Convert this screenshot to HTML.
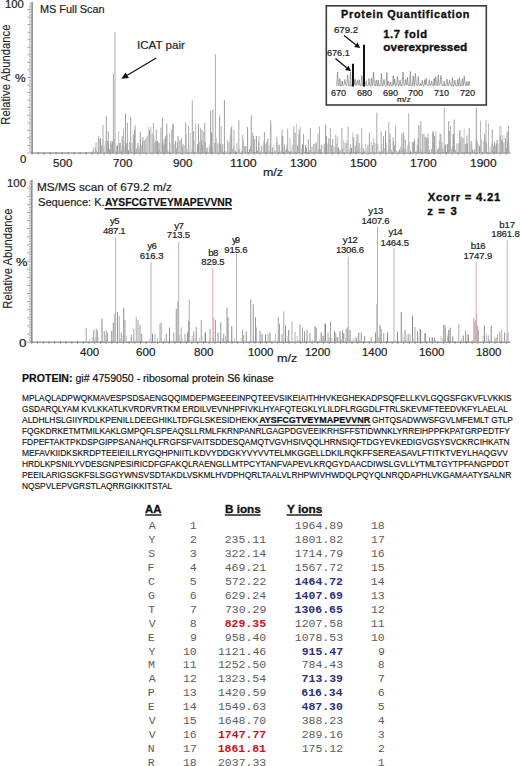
<!DOCTYPE html>
<html><head><meta charset="utf-8"><style>
html,body{margin:0;padding:0;background:#fff;}
body{width:520px;height:766px;position:relative;overflow:hidden;font-family:'Liberation Sans', sans-serif;}
.t{position:absolute;white-space:nowrap;}
svg{position:absolute;left:0;top:0;}
</style></head><body>
<svg width="520" height="766" viewBox="0 0 520 766" >
<line x1="32.10" y1="2.00" x2="32.10" y2="153.50" stroke="#8c8c8c" stroke-width="1.6"/>
<line x1="27.30" y1="153.00" x2="31.30" y2="153.00" stroke="#9c9c9c" stroke-width="0.9"/>
<line x1="29.20" y1="151.49" x2="31.30" y2="151.49" stroke="#b0b0b0" stroke-width="0.9"/>
<line x1="29.20" y1="149.98" x2="31.30" y2="149.98" stroke="#b0b0b0" stroke-width="0.9"/>
<line x1="29.20" y1="148.47" x2="31.30" y2="148.47" stroke="#b0b0b0" stroke-width="0.9"/>
<line x1="29.20" y1="146.96" x2="31.30" y2="146.96" stroke="#b0b0b0" stroke-width="0.9"/>
<line x1="27.30" y1="145.45" x2="31.30" y2="145.45" stroke="#9c9c9c" stroke-width="0.9"/>
<line x1="29.20" y1="143.94" x2="31.30" y2="143.94" stroke="#b0b0b0" stroke-width="0.9"/>
<line x1="29.20" y1="142.43" x2="31.30" y2="142.43" stroke="#b0b0b0" stroke-width="0.9"/>
<line x1="29.20" y1="140.92" x2="31.30" y2="140.92" stroke="#b0b0b0" stroke-width="0.9"/>
<line x1="29.20" y1="139.41" x2="31.30" y2="139.41" stroke="#b0b0b0" stroke-width="0.9"/>
<line x1="27.30" y1="137.90" x2="31.30" y2="137.90" stroke="#9c9c9c" stroke-width="0.9"/>
<line x1="29.20" y1="136.39" x2="31.30" y2="136.39" stroke="#b0b0b0" stroke-width="0.9"/>
<line x1="29.20" y1="134.88" x2="31.30" y2="134.88" stroke="#b0b0b0" stroke-width="0.9"/>
<line x1="29.20" y1="133.37" x2="31.30" y2="133.37" stroke="#b0b0b0" stroke-width="0.9"/>
<line x1="29.20" y1="131.86" x2="31.30" y2="131.86" stroke="#b0b0b0" stroke-width="0.9"/>
<line x1="27.30" y1="130.35" x2="31.30" y2="130.35" stroke="#9c9c9c" stroke-width="0.9"/>
<line x1="29.20" y1="128.84" x2="31.30" y2="128.84" stroke="#b0b0b0" stroke-width="0.9"/>
<line x1="29.20" y1="127.33" x2="31.30" y2="127.33" stroke="#b0b0b0" stroke-width="0.9"/>
<line x1="29.20" y1="125.82" x2="31.30" y2="125.82" stroke="#b0b0b0" stroke-width="0.9"/>
<line x1="29.20" y1="124.31" x2="31.30" y2="124.31" stroke="#b0b0b0" stroke-width="0.9"/>
<line x1="27.30" y1="122.80" x2="31.30" y2="122.80" stroke="#9c9c9c" stroke-width="0.9"/>
<line x1="29.20" y1="121.29" x2="31.30" y2="121.29" stroke="#b0b0b0" stroke-width="0.9"/>
<line x1="29.20" y1="119.78" x2="31.30" y2="119.78" stroke="#b0b0b0" stroke-width="0.9"/>
<line x1="29.20" y1="118.27" x2="31.30" y2="118.27" stroke="#b0b0b0" stroke-width="0.9"/>
<line x1="29.20" y1="116.76" x2="31.30" y2="116.76" stroke="#b0b0b0" stroke-width="0.9"/>
<line x1="27.30" y1="115.25" x2="31.30" y2="115.25" stroke="#9c9c9c" stroke-width="0.9"/>
<line x1="29.20" y1="113.74" x2="31.30" y2="113.74" stroke="#b0b0b0" stroke-width="0.9"/>
<line x1="29.20" y1="112.23" x2="31.30" y2="112.23" stroke="#b0b0b0" stroke-width="0.9"/>
<line x1="29.20" y1="110.72" x2="31.30" y2="110.72" stroke="#b0b0b0" stroke-width="0.9"/>
<line x1="29.20" y1="109.21" x2="31.30" y2="109.21" stroke="#b0b0b0" stroke-width="0.9"/>
<line x1="27.30" y1="107.70" x2="31.30" y2="107.70" stroke="#9c9c9c" stroke-width="0.9"/>
<line x1="29.20" y1="106.19" x2="31.30" y2="106.19" stroke="#b0b0b0" stroke-width="0.9"/>
<line x1="29.20" y1="104.68" x2="31.30" y2="104.68" stroke="#b0b0b0" stroke-width="0.9"/>
<line x1="29.20" y1="103.17" x2="31.30" y2="103.17" stroke="#b0b0b0" stroke-width="0.9"/>
<line x1="29.20" y1="101.66" x2="31.30" y2="101.66" stroke="#b0b0b0" stroke-width="0.9"/>
<line x1="27.30" y1="100.15" x2="31.30" y2="100.15" stroke="#9c9c9c" stroke-width="0.9"/>
<line x1="29.20" y1="98.64" x2="31.30" y2="98.64" stroke="#b0b0b0" stroke-width="0.9"/>
<line x1="29.20" y1="97.13" x2="31.30" y2="97.13" stroke="#b0b0b0" stroke-width="0.9"/>
<line x1="29.20" y1="95.62" x2="31.30" y2="95.62" stroke="#b0b0b0" stroke-width="0.9"/>
<line x1="29.20" y1="94.11" x2="31.30" y2="94.11" stroke="#b0b0b0" stroke-width="0.9"/>
<line x1="27.30" y1="92.60" x2="31.30" y2="92.60" stroke="#9c9c9c" stroke-width="0.9"/>
<line x1="29.20" y1="91.09" x2="31.30" y2="91.09" stroke="#b0b0b0" stroke-width="0.9"/>
<line x1="29.20" y1="89.58" x2="31.30" y2="89.58" stroke="#b0b0b0" stroke-width="0.9"/>
<line x1="29.20" y1="88.07" x2="31.30" y2="88.07" stroke="#b0b0b0" stroke-width="0.9"/>
<line x1="29.20" y1="86.56" x2="31.30" y2="86.56" stroke="#b0b0b0" stroke-width="0.9"/>
<line x1="27.30" y1="85.05" x2="31.30" y2="85.05" stroke="#9c9c9c" stroke-width="0.9"/>
<line x1="29.20" y1="83.54" x2="31.30" y2="83.54" stroke="#b0b0b0" stroke-width="0.9"/>
<line x1="29.20" y1="82.03" x2="31.30" y2="82.03" stroke="#b0b0b0" stroke-width="0.9"/>
<line x1="29.20" y1="80.52" x2="31.30" y2="80.52" stroke="#b0b0b0" stroke-width="0.9"/>
<line x1="29.20" y1="79.01" x2="31.30" y2="79.01" stroke="#b0b0b0" stroke-width="0.9"/>
<line x1="27.30" y1="77.50" x2="31.30" y2="77.50" stroke="#9c9c9c" stroke-width="0.9"/>
<line x1="29.20" y1="75.99" x2="31.30" y2="75.99" stroke="#b0b0b0" stroke-width="0.9"/>
<line x1="29.20" y1="74.48" x2="31.30" y2="74.48" stroke="#b0b0b0" stroke-width="0.9"/>
<line x1="29.20" y1="72.97" x2="31.30" y2="72.97" stroke="#b0b0b0" stroke-width="0.9"/>
<line x1="29.20" y1="71.46" x2="31.30" y2="71.46" stroke="#b0b0b0" stroke-width="0.9"/>
<line x1="27.30" y1="69.95" x2="31.30" y2="69.95" stroke="#9c9c9c" stroke-width="0.9"/>
<line x1="29.20" y1="68.44" x2="31.30" y2="68.44" stroke="#b0b0b0" stroke-width="0.9"/>
<line x1="29.20" y1="66.93" x2="31.30" y2="66.93" stroke="#b0b0b0" stroke-width="0.9"/>
<line x1="29.20" y1="65.42" x2="31.30" y2="65.42" stroke="#b0b0b0" stroke-width="0.9"/>
<line x1="29.20" y1="63.91" x2="31.30" y2="63.91" stroke="#b0b0b0" stroke-width="0.9"/>
<line x1="27.30" y1="62.40" x2="31.30" y2="62.40" stroke="#9c9c9c" stroke-width="0.9"/>
<line x1="29.20" y1="60.89" x2="31.30" y2="60.89" stroke="#b0b0b0" stroke-width="0.9"/>
<line x1="29.20" y1="59.38" x2="31.30" y2="59.38" stroke="#b0b0b0" stroke-width="0.9"/>
<line x1="29.20" y1="57.87" x2="31.30" y2="57.87" stroke="#b0b0b0" stroke-width="0.9"/>
<line x1="29.20" y1="56.36" x2="31.30" y2="56.36" stroke="#b0b0b0" stroke-width="0.9"/>
<line x1="27.30" y1="54.85" x2="31.30" y2="54.85" stroke="#9c9c9c" stroke-width="0.9"/>
<line x1="29.20" y1="53.34" x2="31.30" y2="53.34" stroke="#b0b0b0" stroke-width="0.9"/>
<line x1="29.20" y1="51.83" x2="31.30" y2="51.83" stroke="#b0b0b0" stroke-width="0.9"/>
<line x1="29.20" y1="50.32" x2="31.30" y2="50.32" stroke="#b0b0b0" stroke-width="0.9"/>
<line x1="29.20" y1="48.81" x2="31.30" y2="48.81" stroke="#b0b0b0" stroke-width="0.9"/>
<line x1="27.30" y1="47.30" x2="31.30" y2="47.30" stroke="#9c9c9c" stroke-width="0.9"/>
<line x1="29.20" y1="45.79" x2="31.30" y2="45.79" stroke="#b0b0b0" stroke-width="0.9"/>
<line x1="29.20" y1="44.28" x2="31.30" y2="44.28" stroke="#b0b0b0" stroke-width="0.9"/>
<line x1="29.20" y1="42.77" x2="31.30" y2="42.77" stroke="#b0b0b0" stroke-width="0.9"/>
<line x1="29.20" y1="41.26" x2="31.30" y2="41.26" stroke="#b0b0b0" stroke-width="0.9"/>
<line x1="27.30" y1="39.75" x2="31.30" y2="39.75" stroke="#9c9c9c" stroke-width="0.9"/>
<line x1="29.20" y1="38.24" x2="31.30" y2="38.24" stroke="#b0b0b0" stroke-width="0.9"/>
<line x1="29.20" y1="36.73" x2="31.30" y2="36.73" stroke="#b0b0b0" stroke-width="0.9"/>
<line x1="29.20" y1="35.22" x2="31.30" y2="35.22" stroke="#b0b0b0" stroke-width="0.9"/>
<line x1="29.20" y1="33.71" x2="31.30" y2="33.71" stroke="#b0b0b0" stroke-width="0.9"/>
<line x1="27.30" y1="32.20" x2="31.30" y2="32.20" stroke="#9c9c9c" stroke-width="0.9"/>
<line x1="29.20" y1="30.69" x2="31.30" y2="30.69" stroke="#b0b0b0" stroke-width="0.9"/>
<line x1="29.20" y1="29.18" x2="31.30" y2="29.18" stroke="#b0b0b0" stroke-width="0.9"/>
<line x1="29.20" y1="27.67" x2="31.30" y2="27.67" stroke="#b0b0b0" stroke-width="0.9"/>
<line x1="29.20" y1="26.16" x2="31.30" y2="26.16" stroke="#b0b0b0" stroke-width="0.9"/>
<line x1="27.30" y1="24.65" x2="31.30" y2="24.65" stroke="#9c9c9c" stroke-width="0.9"/>
<line x1="29.20" y1="23.14" x2="31.30" y2="23.14" stroke="#b0b0b0" stroke-width="0.9"/>
<line x1="29.20" y1="21.63" x2="31.30" y2="21.63" stroke="#b0b0b0" stroke-width="0.9"/>
<line x1="29.20" y1="20.12" x2="31.30" y2="20.12" stroke="#b0b0b0" stroke-width="0.9"/>
<line x1="29.20" y1="18.61" x2="31.30" y2="18.61" stroke="#b0b0b0" stroke-width="0.9"/>
<line x1="27.30" y1="17.10" x2="31.30" y2="17.10" stroke="#9c9c9c" stroke-width="0.9"/>
<line x1="29.20" y1="15.59" x2="31.30" y2="15.59" stroke="#b0b0b0" stroke-width="0.9"/>
<line x1="29.20" y1="14.08" x2="31.30" y2="14.08" stroke="#b0b0b0" stroke-width="0.9"/>
<line x1="29.20" y1="12.57" x2="31.30" y2="12.57" stroke="#b0b0b0" stroke-width="0.9"/>
<line x1="29.20" y1="11.06" x2="31.30" y2="11.06" stroke="#b0b0b0" stroke-width="0.9"/>
<line x1="27.30" y1="9.55" x2="31.30" y2="9.55" stroke="#9c9c9c" stroke-width="0.9"/>
<line x1="29.20" y1="8.04" x2="31.30" y2="8.04" stroke="#b0b0b0" stroke-width="0.9"/>
<line x1="29.20" y1="6.53" x2="31.30" y2="6.53" stroke="#b0b0b0" stroke-width="0.9"/>
<line x1="29.20" y1="5.02" x2="31.30" y2="5.02" stroke="#b0b0b0" stroke-width="0.9"/>
<line x1="29.20" y1="3.51" x2="31.30" y2="3.51" stroke="#b0b0b0" stroke-width="0.9"/>
<line x1="31.00" y1="153.00" x2="510.50" y2="153.00" stroke="#6e6e6e" stroke-width="1.0"/>
<line x1="32.10" y1="152.00" x2="32.10" y2="154.60" stroke="#8a8a8a" stroke-width="1.0"/>
<line x1="38.10" y1="152.00" x2="38.10" y2="154.60" stroke="#8a8a8a" stroke-width="1.0"/>
<line x1="44.10" y1="152.00" x2="44.10" y2="154.60" stroke="#8a8a8a" stroke-width="1.0"/>
<line x1="50.10" y1="152.00" x2="50.10" y2="154.60" stroke="#8a8a8a" stroke-width="1.0"/>
<line x1="56.10" y1="152.00" x2="56.10" y2="154.60" stroke="#8a8a8a" stroke-width="1.0"/>
<line x1="62.10" y1="152.00" x2="62.10" y2="154.60" stroke="#8a8a8a" stroke-width="1.0"/>
<line x1="68.10" y1="152.00" x2="68.10" y2="154.60" stroke="#8a8a8a" stroke-width="1.0"/>
<line x1="74.10" y1="152.00" x2="74.10" y2="154.60" stroke="#8a8a8a" stroke-width="1.0"/>
<line x1="80.10" y1="152.00" x2="80.10" y2="154.60" stroke="#8a8a8a" stroke-width="1.0"/>
<line x1="86.10" y1="152.00" x2="86.10" y2="154.60" stroke="#8a8a8a" stroke-width="1.0"/>
<line x1="92.10" y1="152.00" x2="92.10" y2="154.60" stroke="#8a8a8a" stroke-width="1.0"/>
<line x1="98.10" y1="152.00" x2="98.10" y2="154.60" stroke="#8a8a8a" stroke-width="1.0"/>
<line x1="104.10" y1="152.00" x2="104.10" y2="154.60" stroke="#8a8a8a" stroke-width="1.0"/>
<line x1="110.10" y1="152.00" x2="110.10" y2="154.60" stroke="#8a8a8a" stroke-width="1.0"/>
<line x1="116.10" y1="152.00" x2="116.10" y2="154.60" stroke="#8a8a8a" stroke-width="1.0"/>
<line x1="122.10" y1="152.00" x2="122.10" y2="154.60" stroke="#8a8a8a" stroke-width="1.0"/>
<line x1="128.10" y1="152.00" x2="128.10" y2="154.60" stroke="#8a8a8a" stroke-width="1.0"/>
<line x1="134.10" y1="152.00" x2="134.10" y2="154.60" stroke="#8a8a8a" stroke-width="1.0"/>
<line x1="140.10" y1="152.00" x2="140.10" y2="154.60" stroke="#8a8a8a" stroke-width="1.0"/>
<line x1="146.10" y1="152.00" x2="146.10" y2="154.60" stroke="#8a8a8a" stroke-width="1.0"/>
<line x1="152.10" y1="152.00" x2="152.10" y2="154.60" stroke="#8a8a8a" stroke-width="1.0"/>
<line x1="158.10" y1="152.00" x2="158.10" y2="154.60" stroke="#8a8a8a" stroke-width="1.0"/>
<line x1="164.10" y1="152.00" x2="164.10" y2="154.60" stroke="#8a8a8a" stroke-width="1.0"/>
<line x1="170.10" y1="152.00" x2="170.10" y2="154.60" stroke="#8a8a8a" stroke-width="1.0"/>
<line x1="176.10" y1="152.00" x2="176.10" y2="154.60" stroke="#8a8a8a" stroke-width="1.0"/>
<line x1="182.10" y1="152.00" x2="182.10" y2="154.60" stroke="#8a8a8a" stroke-width="1.0"/>
<line x1="188.10" y1="152.00" x2="188.10" y2="154.60" stroke="#8a8a8a" stroke-width="1.0"/>
<line x1="194.10" y1="152.00" x2="194.10" y2="154.60" stroke="#8a8a8a" stroke-width="1.0"/>
<line x1="200.10" y1="152.00" x2="200.10" y2="154.60" stroke="#8a8a8a" stroke-width="1.0"/>
<line x1="206.10" y1="152.00" x2="206.10" y2="154.60" stroke="#8a8a8a" stroke-width="1.0"/>
<line x1="212.10" y1="152.00" x2="212.10" y2="154.60" stroke="#8a8a8a" stroke-width="1.0"/>
<line x1="218.10" y1="152.00" x2="218.10" y2="154.60" stroke="#8a8a8a" stroke-width="1.0"/>
<line x1="224.10" y1="152.00" x2="224.10" y2="154.60" stroke="#8a8a8a" stroke-width="1.0"/>
<line x1="230.10" y1="152.00" x2="230.10" y2="154.60" stroke="#8a8a8a" stroke-width="1.0"/>
<line x1="236.10" y1="152.00" x2="236.10" y2="154.60" stroke="#8a8a8a" stroke-width="1.0"/>
<line x1="242.10" y1="152.00" x2="242.10" y2="154.60" stroke="#8a8a8a" stroke-width="1.0"/>
<line x1="248.10" y1="152.00" x2="248.10" y2="154.60" stroke="#8a8a8a" stroke-width="1.0"/>
<line x1="254.10" y1="152.00" x2="254.10" y2="154.60" stroke="#8a8a8a" stroke-width="1.0"/>
<line x1="260.10" y1="152.00" x2="260.10" y2="154.60" stroke="#8a8a8a" stroke-width="1.0"/>
<line x1="266.10" y1="152.00" x2="266.10" y2="154.60" stroke="#8a8a8a" stroke-width="1.0"/>
<line x1="272.10" y1="152.00" x2="272.10" y2="154.60" stroke="#8a8a8a" stroke-width="1.0"/>
<line x1="278.10" y1="152.00" x2="278.10" y2="154.60" stroke="#8a8a8a" stroke-width="1.0"/>
<line x1="284.10" y1="152.00" x2="284.10" y2="154.60" stroke="#8a8a8a" stroke-width="1.0"/>
<line x1="290.10" y1="152.00" x2="290.10" y2="154.60" stroke="#8a8a8a" stroke-width="1.0"/>
<line x1="296.10" y1="152.00" x2="296.10" y2="154.60" stroke="#8a8a8a" stroke-width="1.0"/>
<line x1="302.10" y1="152.00" x2="302.10" y2="154.60" stroke="#8a8a8a" stroke-width="1.0"/>
<line x1="308.10" y1="152.00" x2="308.10" y2="154.60" stroke="#8a8a8a" stroke-width="1.0"/>
<line x1="314.10" y1="152.00" x2="314.10" y2="154.60" stroke="#8a8a8a" stroke-width="1.0"/>
<line x1="320.10" y1="152.00" x2="320.10" y2="154.60" stroke="#8a8a8a" stroke-width="1.0"/>
<line x1="326.10" y1="152.00" x2="326.10" y2="154.60" stroke="#8a8a8a" stroke-width="1.0"/>
<line x1="332.10" y1="152.00" x2="332.10" y2="154.60" stroke="#8a8a8a" stroke-width="1.0"/>
<line x1="338.10" y1="152.00" x2="338.10" y2="154.60" stroke="#8a8a8a" stroke-width="1.0"/>
<line x1="344.10" y1="152.00" x2="344.10" y2="154.60" stroke="#8a8a8a" stroke-width="1.0"/>
<line x1="350.10" y1="152.00" x2="350.10" y2="154.60" stroke="#8a8a8a" stroke-width="1.0"/>
<line x1="356.10" y1="152.00" x2="356.10" y2="154.60" stroke="#8a8a8a" stroke-width="1.0"/>
<line x1="362.10" y1="152.00" x2="362.10" y2="154.60" stroke="#8a8a8a" stroke-width="1.0"/>
<line x1="368.10" y1="152.00" x2="368.10" y2="154.60" stroke="#8a8a8a" stroke-width="1.0"/>
<line x1="374.10" y1="152.00" x2="374.10" y2="154.60" stroke="#8a8a8a" stroke-width="1.0"/>
<line x1="380.10" y1="152.00" x2="380.10" y2="154.60" stroke="#8a8a8a" stroke-width="1.0"/>
<line x1="386.10" y1="152.00" x2="386.10" y2="154.60" stroke="#8a8a8a" stroke-width="1.0"/>
<line x1="392.10" y1="152.00" x2="392.10" y2="154.60" stroke="#8a8a8a" stroke-width="1.0"/>
<line x1="398.10" y1="152.00" x2="398.10" y2="154.60" stroke="#8a8a8a" stroke-width="1.0"/>
<line x1="404.10" y1="152.00" x2="404.10" y2="154.60" stroke="#8a8a8a" stroke-width="1.0"/>
<line x1="410.10" y1="152.00" x2="410.10" y2="154.60" stroke="#8a8a8a" stroke-width="1.0"/>
<line x1="416.10" y1="152.00" x2="416.10" y2="154.60" stroke="#8a8a8a" stroke-width="1.0"/>
<line x1="422.10" y1="152.00" x2="422.10" y2="154.60" stroke="#8a8a8a" stroke-width="1.0"/>
<line x1="428.10" y1="152.00" x2="428.10" y2="154.60" stroke="#8a8a8a" stroke-width="1.0"/>
<line x1="434.10" y1="152.00" x2="434.10" y2="154.60" stroke="#8a8a8a" stroke-width="1.0"/>
<line x1="440.10" y1="152.00" x2="440.10" y2="154.60" stroke="#8a8a8a" stroke-width="1.0"/>
<line x1="446.10" y1="152.00" x2="446.10" y2="154.60" stroke="#8a8a8a" stroke-width="1.0"/>
<line x1="452.10" y1="152.00" x2="452.10" y2="154.60" stroke="#8a8a8a" stroke-width="1.0"/>
<line x1="458.10" y1="152.00" x2="458.10" y2="154.60" stroke="#8a8a8a" stroke-width="1.0"/>
<line x1="464.10" y1="152.00" x2="464.10" y2="154.60" stroke="#8a8a8a" stroke-width="1.0"/>
<line x1="470.10" y1="152.00" x2="470.10" y2="154.60" stroke="#8a8a8a" stroke-width="1.0"/>
<line x1="476.10" y1="152.00" x2="476.10" y2="154.60" stroke="#8a8a8a" stroke-width="1.0"/>
<line x1="482.10" y1="152.00" x2="482.10" y2="154.60" stroke="#8a8a8a" stroke-width="1.0"/>
<line x1="488.10" y1="152.00" x2="488.10" y2="154.60" stroke="#8a8a8a" stroke-width="1.0"/>
<line x1="494.10" y1="152.00" x2="494.10" y2="154.60" stroke="#8a8a8a" stroke-width="1.0"/>
<line x1="500.10" y1="152.00" x2="500.10" y2="154.60" stroke="#8a8a8a" stroke-width="1.0"/>
<line x1="506.10" y1="152.00" x2="506.10" y2="154.60" stroke="#8a8a8a" stroke-width="1.0"/>
<line x1="31.80" y1="180.00" x2="31.80" y2="342.70" stroke="#8c8c8c" stroke-width="1.6"/>
<line x1="27.00" y1="342.20" x2="31.00" y2="342.20" stroke="#9c9c9c" stroke-width="0.9"/>
<line x1="28.90" y1="340.58" x2="31.00" y2="340.58" stroke="#b0b0b0" stroke-width="0.9"/>
<line x1="28.90" y1="338.96" x2="31.00" y2="338.96" stroke="#b0b0b0" stroke-width="0.9"/>
<line x1="28.90" y1="337.33" x2="31.00" y2="337.33" stroke="#b0b0b0" stroke-width="0.9"/>
<line x1="28.90" y1="335.71" x2="31.00" y2="335.71" stroke="#b0b0b0" stroke-width="0.9"/>
<line x1="27.00" y1="334.09" x2="31.00" y2="334.09" stroke="#9c9c9c" stroke-width="0.9"/>
<line x1="28.90" y1="332.47" x2="31.00" y2="332.47" stroke="#b0b0b0" stroke-width="0.9"/>
<line x1="28.90" y1="330.85" x2="31.00" y2="330.85" stroke="#b0b0b0" stroke-width="0.9"/>
<line x1="28.90" y1="329.22" x2="31.00" y2="329.22" stroke="#b0b0b0" stroke-width="0.9"/>
<line x1="28.90" y1="327.60" x2="31.00" y2="327.60" stroke="#b0b0b0" stroke-width="0.9"/>
<line x1="27.00" y1="325.98" x2="31.00" y2="325.98" stroke="#9c9c9c" stroke-width="0.9"/>
<line x1="28.90" y1="324.36" x2="31.00" y2="324.36" stroke="#b0b0b0" stroke-width="0.9"/>
<line x1="28.90" y1="322.74" x2="31.00" y2="322.74" stroke="#b0b0b0" stroke-width="0.9"/>
<line x1="28.90" y1="321.11" x2="31.00" y2="321.11" stroke="#b0b0b0" stroke-width="0.9"/>
<line x1="28.90" y1="319.49" x2="31.00" y2="319.49" stroke="#b0b0b0" stroke-width="0.9"/>
<line x1="27.00" y1="317.87" x2="31.00" y2="317.87" stroke="#9c9c9c" stroke-width="0.9"/>
<line x1="28.90" y1="316.25" x2="31.00" y2="316.25" stroke="#b0b0b0" stroke-width="0.9"/>
<line x1="28.90" y1="314.63" x2="31.00" y2="314.63" stroke="#b0b0b0" stroke-width="0.9"/>
<line x1="28.90" y1="313.00" x2="31.00" y2="313.00" stroke="#b0b0b0" stroke-width="0.9"/>
<line x1="28.90" y1="311.38" x2="31.00" y2="311.38" stroke="#b0b0b0" stroke-width="0.9"/>
<line x1="27.00" y1="309.76" x2="31.00" y2="309.76" stroke="#9c9c9c" stroke-width="0.9"/>
<line x1="28.90" y1="308.14" x2="31.00" y2="308.14" stroke="#b0b0b0" stroke-width="0.9"/>
<line x1="28.90" y1="306.52" x2="31.00" y2="306.52" stroke="#b0b0b0" stroke-width="0.9"/>
<line x1="28.90" y1="304.89" x2="31.00" y2="304.89" stroke="#b0b0b0" stroke-width="0.9"/>
<line x1="28.90" y1="303.27" x2="31.00" y2="303.27" stroke="#b0b0b0" stroke-width="0.9"/>
<line x1="27.00" y1="301.65" x2="31.00" y2="301.65" stroke="#9c9c9c" stroke-width="0.9"/>
<line x1="28.90" y1="300.03" x2="31.00" y2="300.03" stroke="#b0b0b0" stroke-width="0.9"/>
<line x1="28.90" y1="298.41" x2="31.00" y2="298.41" stroke="#b0b0b0" stroke-width="0.9"/>
<line x1="28.90" y1="296.78" x2="31.00" y2="296.78" stroke="#b0b0b0" stroke-width="0.9"/>
<line x1="28.90" y1="295.16" x2="31.00" y2="295.16" stroke="#b0b0b0" stroke-width="0.9"/>
<line x1="27.00" y1="293.54" x2="31.00" y2="293.54" stroke="#9c9c9c" stroke-width="0.9"/>
<line x1="28.90" y1="291.92" x2="31.00" y2="291.92" stroke="#b0b0b0" stroke-width="0.9"/>
<line x1="28.90" y1="290.30" x2="31.00" y2="290.30" stroke="#b0b0b0" stroke-width="0.9"/>
<line x1="28.90" y1="288.67" x2="31.00" y2="288.67" stroke="#b0b0b0" stroke-width="0.9"/>
<line x1="28.90" y1="287.05" x2="31.00" y2="287.05" stroke="#b0b0b0" stroke-width="0.9"/>
<line x1="27.00" y1="285.43" x2="31.00" y2="285.43" stroke="#9c9c9c" stroke-width="0.9"/>
<line x1="28.90" y1="283.81" x2="31.00" y2="283.81" stroke="#b0b0b0" stroke-width="0.9"/>
<line x1="28.90" y1="282.19" x2="31.00" y2="282.19" stroke="#b0b0b0" stroke-width="0.9"/>
<line x1="28.90" y1="280.56" x2="31.00" y2="280.56" stroke="#b0b0b0" stroke-width="0.9"/>
<line x1="28.90" y1="278.94" x2="31.00" y2="278.94" stroke="#b0b0b0" stroke-width="0.9"/>
<line x1="27.00" y1="277.32" x2="31.00" y2="277.32" stroke="#9c9c9c" stroke-width="0.9"/>
<line x1="28.90" y1="275.70" x2="31.00" y2="275.70" stroke="#b0b0b0" stroke-width="0.9"/>
<line x1="28.90" y1="274.08" x2="31.00" y2="274.08" stroke="#b0b0b0" stroke-width="0.9"/>
<line x1="28.90" y1="272.45" x2="31.00" y2="272.45" stroke="#b0b0b0" stroke-width="0.9"/>
<line x1="28.90" y1="270.83" x2="31.00" y2="270.83" stroke="#b0b0b0" stroke-width="0.9"/>
<line x1="27.00" y1="269.21" x2="31.00" y2="269.21" stroke="#9c9c9c" stroke-width="0.9"/>
<line x1="28.90" y1="267.59" x2="31.00" y2="267.59" stroke="#b0b0b0" stroke-width="0.9"/>
<line x1="28.90" y1="265.97" x2="31.00" y2="265.97" stroke="#b0b0b0" stroke-width="0.9"/>
<line x1="28.90" y1="264.34" x2="31.00" y2="264.34" stroke="#b0b0b0" stroke-width="0.9"/>
<line x1="28.90" y1="262.72" x2="31.00" y2="262.72" stroke="#b0b0b0" stroke-width="0.9"/>
<line x1="27.00" y1="261.10" x2="31.00" y2="261.10" stroke="#9c9c9c" stroke-width="0.9"/>
<line x1="28.90" y1="259.48" x2="31.00" y2="259.48" stroke="#b0b0b0" stroke-width="0.9"/>
<line x1="28.90" y1="257.86" x2="31.00" y2="257.86" stroke="#b0b0b0" stroke-width="0.9"/>
<line x1="28.90" y1="256.23" x2="31.00" y2="256.23" stroke="#b0b0b0" stroke-width="0.9"/>
<line x1="28.90" y1="254.61" x2="31.00" y2="254.61" stroke="#b0b0b0" stroke-width="0.9"/>
<line x1="27.00" y1="252.99" x2="31.00" y2="252.99" stroke="#9c9c9c" stroke-width="0.9"/>
<line x1="28.90" y1="251.37" x2="31.00" y2="251.37" stroke="#b0b0b0" stroke-width="0.9"/>
<line x1="28.90" y1="249.75" x2="31.00" y2="249.75" stroke="#b0b0b0" stroke-width="0.9"/>
<line x1="28.90" y1="248.12" x2="31.00" y2="248.12" stroke="#b0b0b0" stroke-width="0.9"/>
<line x1="28.90" y1="246.50" x2="31.00" y2="246.50" stroke="#b0b0b0" stroke-width="0.9"/>
<line x1="27.00" y1="244.88" x2="31.00" y2="244.88" stroke="#9c9c9c" stroke-width="0.9"/>
<line x1="28.90" y1="243.26" x2="31.00" y2="243.26" stroke="#b0b0b0" stroke-width="0.9"/>
<line x1="28.90" y1="241.64" x2="31.00" y2="241.64" stroke="#b0b0b0" stroke-width="0.9"/>
<line x1="28.90" y1="240.01" x2="31.00" y2="240.01" stroke="#b0b0b0" stroke-width="0.9"/>
<line x1="28.90" y1="238.39" x2="31.00" y2="238.39" stroke="#b0b0b0" stroke-width="0.9"/>
<line x1="27.00" y1="236.77" x2="31.00" y2="236.77" stroke="#9c9c9c" stroke-width="0.9"/>
<line x1="28.90" y1="235.15" x2="31.00" y2="235.15" stroke="#b0b0b0" stroke-width="0.9"/>
<line x1="28.90" y1="233.53" x2="31.00" y2="233.53" stroke="#b0b0b0" stroke-width="0.9"/>
<line x1="28.90" y1="231.90" x2="31.00" y2="231.90" stroke="#b0b0b0" stroke-width="0.9"/>
<line x1="28.90" y1="230.28" x2="31.00" y2="230.28" stroke="#b0b0b0" stroke-width="0.9"/>
<line x1="27.00" y1="228.66" x2="31.00" y2="228.66" stroke="#9c9c9c" stroke-width="0.9"/>
<line x1="28.90" y1="227.04" x2="31.00" y2="227.04" stroke="#b0b0b0" stroke-width="0.9"/>
<line x1="28.90" y1="225.42" x2="31.00" y2="225.42" stroke="#b0b0b0" stroke-width="0.9"/>
<line x1="28.90" y1="223.79" x2="31.00" y2="223.79" stroke="#b0b0b0" stroke-width="0.9"/>
<line x1="28.90" y1="222.17" x2="31.00" y2="222.17" stroke="#b0b0b0" stroke-width="0.9"/>
<line x1="27.00" y1="220.55" x2="31.00" y2="220.55" stroke="#9c9c9c" stroke-width="0.9"/>
<line x1="28.90" y1="218.93" x2="31.00" y2="218.93" stroke="#b0b0b0" stroke-width="0.9"/>
<line x1="28.90" y1="217.31" x2="31.00" y2="217.31" stroke="#b0b0b0" stroke-width="0.9"/>
<line x1="28.90" y1="215.68" x2="31.00" y2="215.68" stroke="#b0b0b0" stroke-width="0.9"/>
<line x1="28.90" y1="214.06" x2="31.00" y2="214.06" stroke="#b0b0b0" stroke-width="0.9"/>
<line x1="27.00" y1="212.44" x2="31.00" y2="212.44" stroke="#9c9c9c" stroke-width="0.9"/>
<line x1="28.90" y1="210.82" x2="31.00" y2="210.82" stroke="#b0b0b0" stroke-width="0.9"/>
<line x1="28.90" y1="209.20" x2="31.00" y2="209.20" stroke="#b0b0b0" stroke-width="0.9"/>
<line x1="28.90" y1="207.57" x2="31.00" y2="207.57" stroke="#b0b0b0" stroke-width="0.9"/>
<line x1="28.90" y1="205.95" x2="31.00" y2="205.95" stroke="#b0b0b0" stroke-width="0.9"/>
<line x1="27.00" y1="204.33" x2="31.00" y2="204.33" stroke="#9c9c9c" stroke-width="0.9"/>
<line x1="28.90" y1="202.71" x2="31.00" y2="202.71" stroke="#b0b0b0" stroke-width="0.9"/>
<line x1="28.90" y1="201.09" x2="31.00" y2="201.09" stroke="#b0b0b0" stroke-width="0.9"/>
<line x1="28.90" y1="199.46" x2="31.00" y2="199.46" stroke="#b0b0b0" stroke-width="0.9"/>
<line x1="28.90" y1="197.84" x2="31.00" y2="197.84" stroke="#b0b0b0" stroke-width="0.9"/>
<line x1="27.00" y1="196.22" x2="31.00" y2="196.22" stroke="#9c9c9c" stroke-width="0.9"/>
<line x1="28.90" y1="194.60" x2="31.00" y2="194.60" stroke="#b0b0b0" stroke-width="0.9"/>
<line x1="28.90" y1="192.98" x2="31.00" y2="192.98" stroke="#b0b0b0" stroke-width="0.9"/>
<line x1="28.90" y1="191.35" x2="31.00" y2="191.35" stroke="#b0b0b0" stroke-width="0.9"/>
<line x1="28.90" y1="189.73" x2="31.00" y2="189.73" stroke="#b0b0b0" stroke-width="0.9"/>
<line x1="27.00" y1="188.11" x2="31.00" y2="188.11" stroke="#9c9c9c" stroke-width="0.9"/>
<line x1="28.90" y1="186.49" x2="31.00" y2="186.49" stroke="#b0b0b0" stroke-width="0.9"/>
<line x1="28.90" y1="184.87" x2="31.00" y2="184.87" stroke="#b0b0b0" stroke-width="0.9"/>
<line x1="28.90" y1="183.24" x2="31.00" y2="183.24" stroke="#b0b0b0" stroke-width="0.9"/>
<line x1="28.90" y1="181.62" x2="31.00" y2="181.62" stroke="#b0b0b0" stroke-width="0.9"/>
<line x1="30.70" y1="342.20" x2="510.50" y2="342.20" stroke="#6e6e6e" stroke-width="1.0"/>
<line x1="31.80" y1="341.20" x2="31.80" y2="343.80" stroke="#8a8a8a" stroke-width="1.0"/>
<line x1="37.52" y1="341.20" x2="37.52" y2="343.80" stroke="#8a8a8a" stroke-width="1.0"/>
<line x1="43.24" y1="341.20" x2="43.24" y2="343.80" stroke="#8a8a8a" stroke-width="1.0"/>
<line x1="48.96" y1="341.20" x2="48.96" y2="343.80" stroke="#8a8a8a" stroke-width="1.0"/>
<line x1="54.68" y1="341.20" x2="54.68" y2="343.80" stroke="#8a8a8a" stroke-width="1.0"/>
<line x1="60.40" y1="341.20" x2="60.40" y2="343.80" stroke="#8a8a8a" stroke-width="1.0"/>
<line x1="66.12" y1="341.20" x2="66.12" y2="343.80" stroke="#8a8a8a" stroke-width="1.0"/>
<line x1="71.84" y1="341.20" x2="71.84" y2="343.80" stroke="#8a8a8a" stroke-width="1.0"/>
<line x1="77.56" y1="341.20" x2="77.56" y2="343.80" stroke="#8a8a8a" stroke-width="1.0"/>
<line x1="83.28" y1="341.20" x2="83.28" y2="343.80" stroke="#8a8a8a" stroke-width="1.0"/>
<line x1="89.00" y1="341.20" x2="89.00" y2="343.80" stroke="#8a8a8a" stroke-width="1.0"/>
<line x1="94.72" y1="341.20" x2="94.72" y2="343.80" stroke="#8a8a8a" stroke-width="1.0"/>
<line x1="100.44" y1="341.20" x2="100.44" y2="343.80" stroke="#8a8a8a" stroke-width="1.0"/>
<line x1="106.16" y1="341.20" x2="106.16" y2="343.80" stroke="#8a8a8a" stroke-width="1.0"/>
<line x1="111.88" y1="341.20" x2="111.88" y2="343.80" stroke="#8a8a8a" stroke-width="1.0"/>
<line x1="117.60" y1="341.20" x2="117.60" y2="343.80" stroke="#8a8a8a" stroke-width="1.0"/>
<line x1="123.32" y1="341.20" x2="123.32" y2="343.80" stroke="#8a8a8a" stroke-width="1.0"/>
<line x1="129.04" y1="341.20" x2="129.04" y2="343.80" stroke="#8a8a8a" stroke-width="1.0"/>
<line x1="134.76" y1="341.20" x2="134.76" y2="343.80" stroke="#8a8a8a" stroke-width="1.0"/>
<line x1="140.48" y1="341.20" x2="140.48" y2="343.80" stroke="#8a8a8a" stroke-width="1.0"/>
<line x1="146.20" y1="341.20" x2="146.20" y2="343.80" stroke="#8a8a8a" stroke-width="1.0"/>
<line x1="151.92" y1="341.20" x2="151.92" y2="343.80" stroke="#8a8a8a" stroke-width="1.0"/>
<line x1="157.64" y1="341.20" x2="157.64" y2="343.80" stroke="#8a8a8a" stroke-width="1.0"/>
<line x1="163.36" y1="341.20" x2="163.36" y2="343.80" stroke="#8a8a8a" stroke-width="1.0"/>
<line x1="169.08" y1="341.20" x2="169.08" y2="343.80" stroke="#8a8a8a" stroke-width="1.0"/>
<line x1="174.80" y1="341.20" x2="174.80" y2="343.80" stroke="#8a8a8a" stroke-width="1.0"/>
<line x1="180.52" y1="341.20" x2="180.52" y2="343.80" stroke="#8a8a8a" stroke-width="1.0"/>
<line x1="186.24" y1="341.20" x2="186.24" y2="343.80" stroke="#8a8a8a" stroke-width="1.0"/>
<line x1="191.96" y1="341.20" x2="191.96" y2="343.80" stroke="#8a8a8a" stroke-width="1.0"/>
<line x1="197.68" y1="341.20" x2="197.68" y2="343.80" stroke="#8a8a8a" stroke-width="1.0"/>
<line x1="203.40" y1="341.20" x2="203.40" y2="343.80" stroke="#8a8a8a" stroke-width="1.0"/>
<line x1="209.12" y1="341.20" x2="209.12" y2="343.80" stroke="#8a8a8a" stroke-width="1.0"/>
<line x1="214.84" y1="341.20" x2="214.84" y2="343.80" stroke="#8a8a8a" stroke-width="1.0"/>
<line x1="220.56" y1="341.20" x2="220.56" y2="343.80" stroke="#8a8a8a" stroke-width="1.0"/>
<line x1="226.28" y1="341.20" x2="226.28" y2="343.80" stroke="#8a8a8a" stroke-width="1.0"/>
<line x1="232.00" y1="341.20" x2="232.00" y2="343.80" stroke="#8a8a8a" stroke-width="1.0"/>
<line x1="237.72" y1="341.20" x2="237.72" y2="343.80" stroke="#8a8a8a" stroke-width="1.0"/>
<line x1="243.44" y1="341.20" x2="243.44" y2="343.80" stroke="#8a8a8a" stroke-width="1.0"/>
<line x1="249.16" y1="341.20" x2="249.16" y2="343.80" stroke="#8a8a8a" stroke-width="1.0"/>
<line x1="254.88" y1="341.20" x2="254.88" y2="343.80" stroke="#8a8a8a" stroke-width="1.0"/>
<line x1="260.60" y1="341.20" x2="260.60" y2="343.80" stroke="#8a8a8a" stroke-width="1.0"/>
<line x1="266.32" y1="341.20" x2="266.32" y2="343.80" stroke="#8a8a8a" stroke-width="1.0"/>
<line x1="272.04" y1="341.20" x2="272.04" y2="343.80" stroke="#8a8a8a" stroke-width="1.0"/>
<line x1="277.76" y1="341.20" x2="277.76" y2="343.80" stroke="#8a8a8a" stroke-width="1.0"/>
<line x1="283.48" y1="341.20" x2="283.48" y2="343.80" stroke="#8a8a8a" stroke-width="1.0"/>
<line x1="289.20" y1="341.20" x2="289.20" y2="343.80" stroke="#8a8a8a" stroke-width="1.0"/>
<line x1="294.92" y1="341.20" x2="294.92" y2="343.80" stroke="#8a8a8a" stroke-width="1.0"/>
<line x1="300.64" y1="341.20" x2="300.64" y2="343.80" stroke="#8a8a8a" stroke-width="1.0"/>
<line x1="306.36" y1="341.20" x2="306.36" y2="343.80" stroke="#8a8a8a" stroke-width="1.0"/>
<line x1="312.08" y1="341.20" x2="312.08" y2="343.80" stroke="#8a8a8a" stroke-width="1.0"/>
<line x1="317.80" y1="341.20" x2="317.80" y2="343.80" stroke="#8a8a8a" stroke-width="1.0"/>
<line x1="323.52" y1="341.20" x2="323.52" y2="343.80" stroke="#8a8a8a" stroke-width="1.0"/>
<line x1="329.24" y1="341.20" x2="329.24" y2="343.80" stroke="#8a8a8a" stroke-width="1.0"/>
<line x1="334.96" y1="341.20" x2="334.96" y2="343.80" stroke="#8a8a8a" stroke-width="1.0"/>
<line x1="340.68" y1="341.20" x2="340.68" y2="343.80" stroke="#8a8a8a" stroke-width="1.0"/>
<line x1="346.40" y1="341.20" x2="346.40" y2="343.80" stroke="#8a8a8a" stroke-width="1.0"/>
<line x1="352.12" y1="341.20" x2="352.12" y2="343.80" stroke="#8a8a8a" stroke-width="1.0"/>
<line x1="357.84" y1="341.20" x2="357.84" y2="343.80" stroke="#8a8a8a" stroke-width="1.0"/>
<line x1="363.56" y1="341.20" x2="363.56" y2="343.80" stroke="#8a8a8a" stroke-width="1.0"/>
<line x1="369.28" y1="341.20" x2="369.28" y2="343.80" stroke="#8a8a8a" stroke-width="1.0"/>
<line x1="375.00" y1="341.20" x2="375.00" y2="343.80" stroke="#8a8a8a" stroke-width="1.0"/>
<line x1="380.72" y1="341.20" x2="380.72" y2="343.80" stroke="#8a8a8a" stroke-width="1.0"/>
<line x1="386.44" y1="341.20" x2="386.44" y2="343.80" stroke="#8a8a8a" stroke-width="1.0"/>
<line x1="392.16" y1="341.20" x2="392.16" y2="343.80" stroke="#8a8a8a" stroke-width="1.0"/>
<line x1="397.88" y1="341.20" x2="397.88" y2="343.80" stroke="#8a8a8a" stroke-width="1.0"/>
<line x1="403.60" y1="341.20" x2="403.60" y2="343.80" stroke="#8a8a8a" stroke-width="1.0"/>
<line x1="409.32" y1="341.20" x2="409.32" y2="343.80" stroke="#8a8a8a" stroke-width="1.0"/>
<line x1="415.04" y1="341.20" x2="415.04" y2="343.80" stroke="#8a8a8a" stroke-width="1.0"/>
<line x1="420.76" y1="341.20" x2="420.76" y2="343.80" stroke="#8a8a8a" stroke-width="1.0"/>
<line x1="426.48" y1="341.20" x2="426.48" y2="343.80" stroke="#8a8a8a" stroke-width="1.0"/>
<line x1="432.20" y1="341.20" x2="432.20" y2="343.80" stroke="#8a8a8a" stroke-width="1.0"/>
<line x1="437.92" y1="341.20" x2="437.92" y2="343.80" stroke="#8a8a8a" stroke-width="1.0"/>
<line x1="443.64" y1="341.20" x2="443.64" y2="343.80" stroke="#8a8a8a" stroke-width="1.0"/>
<line x1="449.36" y1="341.20" x2="449.36" y2="343.80" stroke="#8a8a8a" stroke-width="1.0"/>
<line x1="455.08" y1="341.20" x2="455.08" y2="343.80" stroke="#8a8a8a" stroke-width="1.0"/>
<line x1="460.80" y1="341.20" x2="460.80" y2="343.80" stroke="#8a8a8a" stroke-width="1.0"/>
<line x1="466.52" y1="341.20" x2="466.52" y2="343.80" stroke="#8a8a8a" stroke-width="1.0"/>
<line x1="472.24" y1="341.20" x2="472.24" y2="343.80" stroke="#8a8a8a" stroke-width="1.0"/>
<line x1="477.96" y1="341.20" x2="477.96" y2="343.80" stroke="#8a8a8a" stroke-width="1.0"/>
<line x1="483.68" y1="341.20" x2="483.68" y2="343.80" stroke="#8a8a8a" stroke-width="1.0"/>
<line x1="489.40" y1="341.20" x2="489.40" y2="343.80" stroke="#8a8a8a" stroke-width="1.0"/>
<line x1="495.12" y1="341.20" x2="495.12" y2="343.80" stroke="#8a8a8a" stroke-width="1.0"/>
<line x1="500.84" y1="341.20" x2="500.84" y2="343.80" stroke="#8a8a8a" stroke-width="1.0"/>
<line x1="506.56" y1="341.20" x2="506.56" y2="343.80" stroke="#8a8a8a" stroke-width="1.0"/>
<line x1="93.00" y1="150.18" x2="93.00" y2="153.00" stroke="#8c8c8c" stroke-width="0.9"/>
<line x1="93.80" y1="147.16" x2="93.80" y2="153.00" stroke="#bcbcbc" stroke-width="0.9"/>
<line x1="95.60" y1="147.46" x2="95.60" y2="153.00" stroke="#a4a4a4" stroke-width="0.9"/>
<line x1="96.40" y1="150.64" x2="96.40" y2="153.00" stroke="#a4a4a4" stroke-width="0.9"/>
<line x1="98.20" y1="142.23" x2="98.20" y2="153.00" stroke="#a4a4a4" stroke-width="0.9"/>
<line x1="99.20" y1="139.00" x2="99.20" y2="153.00" stroke="#a4a4a4" stroke-width="0.9"/>
<line x1="101.00" y1="145.59" x2="101.00" y2="153.00" stroke="#b0b0b0" stroke-width="0.9"/>
<line x1="101.80" y1="144.86" x2="101.80" y2="153.00" stroke="#989898" stroke-width="0.9"/>
<line x1="102.80" y1="139.23" x2="102.80" y2="153.00" stroke="#c4c4c4" stroke-width="0.9"/>
<line x1="103.80" y1="146.77" x2="103.80" y2="153.00" stroke="#b0b0b0" stroke-width="0.9"/>
<line x1="105.00" y1="144.77" x2="105.00" y2="153.00" stroke="#c4c4c4" stroke-width="0.9"/>
<line x1="105.80" y1="140.51" x2="105.80" y2="153.00" stroke="#c4c4c4" stroke-width="0.9"/>
<line x1="107.30" y1="140.99" x2="107.30" y2="153.00" stroke="#989898" stroke-width="0.9"/>
<line x1="108.50" y1="143.09" x2="108.50" y2="153.00" stroke="#8c8c8c" stroke-width="0.9"/>
<line x1="109.50" y1="149.21" x2="109.50" y2="153.00" stroke="#989898" stroke-width="0.9"/>
<line x1="110.70" y1="143.28" x2="110.70" y2="153.00" stroke="#a4a4a4" stroke-width="0.9"/>
<line x1="111.50" y1="144.56" x2="111.50" y2="153.00" stroke="#bcbcbc" stroke-width="0.9"/>
<line x1="112.50" y1="141.62" x2="112.50" y2="153.00" stroke="#8c8c8c" stroke-width="0.9"/>
<line x1="113.30" y1="139.19" x2="113.30" y2="153.00" stroke="#bcbcbc" stroke-width="0.9"/>
<line x1="114.50" y1="138.78" x2="114.50" y2="153.00" stroke="#c4c4c4" stroke-width="0.9"/>
<line x1="116.00" y1="150.51" x2="116.00" y2="153.00" stroke="#bcbcbc" stroke-width="0.9"/>
<line x1="117.50" y1="145.46" x2="117.50" y2="153.00" stroke="#8c8c8c" stroke-width="0.9"/>
<line x1="118.70" y1="131.22" x2="118.70" y2="153.00" stroke="#bcbcbc" stroke-width="0.9"/>
<line x1="120.20" y1="142.59" x2="120.20" y2="153.00" stroke="#989898" stroke-width="0.9"/>
<line x1="121.40" y1="150.38" x2="121.40" y2="153.00" stroke="#a4a4a4" stroke-width="0.9"/>
<line x1="122.40" y1="144.89" x2="122.40" y2="153.00" stroke="#b0b0b0" stroke-width="0.9"/>
<line x1="123.90" y1="140.74" x2="123.90" y2="153.00" stroke="#a4a4a4" stroke-width="0.9"/>
<line x1="124.90" y1="147.01" x2="124.90" y2="153.00" stroke="#b0b0b0" stroke-width="0.9"/>
<line x1="126.40" y1="143.39" x2="126.40" y2="153.00" stroke="#989898" stroke-width="0.9"/>
<line x1="127.60" y1="142.17" x2="127.60" y2="153.00" stroke="#b0b0b0" stroke-width="0.9"/>
<line x1="128.60" y1="150.18" x2="128.60" y2="153.00" stroke="#8c8c8c" stroke-width="0.9"/>
<line x1="129.60" y1="142.11" x2="129.60" y2="153.00" stroke="#b0b0b0" stroke-width="0.9"/>
<line x1="130.80" y1="150.21" x2="130.80" y2="153.00" stroke="#c4c4c4" stroke-width="0.9"/>
<line x1="132.00" y1="142.93" x2="132.00" y2="153.00" stroke="#b0b0b0" stroke-width="0.9"/>
<line x1="133.80" y1="137.49" x2="133.80" y2="153.00" stroke="#8c8c8c" stroke-width="0.9"/>
<line x1="134.60" y1="129.62" x2="134.60" y2="153.00" stroke="#8c8c8c" stroke-width="0.9"/>
<line x1="136.40" y1="148.45" x2="136.40" y2="153.00" stroke="#a4a4a4" stroke-width="0.9"/>
<line x1="137.90" y1="145.49" x2="137.90" y2="153.00" stroke="#a4a4a4" stroke-width="0.9"/>
<line x1="138.90" y1="150.42" x2="138.90" y2="153.00" stroke="#c4c4c4" stroke-width="0.9"/>
<line x1="139.70" y1="146.82" x2="139.70" y2="153.00" stroke="#c4c4c4" stroke-width="0.9"/>
<line x1="140.50" y1="138.39" x2="140.50" y2="153.00" stroke="#a4a4a4" stroke-width="0.9"/>
<line x1="141.50" y1="144.71" x2="141.50" y2="153.00" stroke="#bcbcbc" stroke-width="0.9"/>
<line x1="142.70" y1="140.86" x2="142.70" y2="153.00" stroke="#a4a4a4" stroke-width="0.9"/>
<line x1="144.20" y1="140.98" x2="144.20" y2="153.00" stroke="#989898" stroke-width="0.9"/>
<line x1="145.40" y1="150.46" x2="145.40" y2="153.00" stroke="#bcbcbc" stroke-width="0.9"/>
<line x1="146.60" y1="136.58" x2="146.60" y2="153.00" stroke="#c4c4c4" stroke-width="0.9"/>
<line x1="147.40" y1="135.82" x2="147.40" y2="153.00" stroke="#bcbcbc" stroke-width="0.9"/>
<line x1="148.40" y1="126.36" x2="148.40" y2="153.00" stroke="#c4c4c4" stroke-width="0.9"/>
<line x1="149.60" y1="130.08" x2="149.60" y2="153.00" stroke="#8c8c8c" stroke-width="0.9"/>
<line x1="150.80" y1="126.89" x2="150.80" y2="153.00" stroke="#bcbcbc" stroke-width="0.9"/>
<line x1="151.80" y1="133.92" x2="151.80" y2="153.00" stroke="#bcbcbc" stroke-width="0.9"/>
<line x1="152.80" y1="133.58" x2="152.80" y2="153.00" stroke="#b0b0b0" stroke-width="0.9"/>
<line x1="153.80" y1="135.23" x2="153.80" y2="153.00" stroke="#b0b0b0" stroke-width="0.9"/>
<line x1="154.80" y1="142.48" x2="154.80" y2="153.00" stroke="#a4a4a4" stroke-width="0.9"/>
<line x1="155.60" y1="140.89" x2="155.60" y2="153.00" stroke="#b0b0b0" stroke-width="0.9"/>
<line x1="157.40" y1="141.26" x2="157.40" y2="153.00" stroke="#8c8c8c" stroke-width="0.9"/>
<line x1="158.60" y1="142.37" x2="158.60" y2="153.00" stroke="#b0b0b0" stroke-width="0.9"/>
<line x1="159.40" y1="149.90" x2="159.40" y2="153.00" stroke="#b0b0b0" stroke-width="0.9"/>
<line x1="160.90" y1="127.55" x2="160.90" y2="153.00" stroke="#a4a4a4" stroke-width="0.9"/>
<line x1="162.40" y1="142.63" x2="162.40" y2="153.00" stroke="#8c8c8c" stroke-width="0.9"/>
<line x1="163.20" y1="144.98" x2="163.20" y2="153.00" stroke="#989898" stroke-width="0.9"/>
<line x1="164.20" y1="144.43" x2="164.20" y2="153.00" stroke="#8c8c8c" stroke-width="0.9"/>
<line x1="165.40" y1="136.39" x2="165.40" y2="153.00" stroke="#8c8c8c" stroke-width="0.9"/>
<line x1="166.90" y1="135.12" x2="166.90" y2="153.00" stroke="#a4a4a4" stroke-width="0.9"/>
<line x1="167.90" y1="150.32" x2="167.90" y2="153.00" stroke="#b0b0b0" stroke-width="0.9"/>
<line x1="169.70" y1="132.86" x2="169.70" y2="153.00" stroke="#b0b0b0" stroke-width="0.9"/>
<line x1="171.50" y1="129.57" x2="171.50" y2="153.00" stroke="#bcbcbc" stroke-width="0.9"/>
<line x1="172.50" y1="144.88" x2="172.50" y2="153.00" stroke="#a4a4a4" stroke-width="0.9"/>
<line x1="173.30" y1="124.30" x2="173.30" y2="153.00" stroke="#989898" stroke-width="0.9"/>
<line x1="174.30" y1="144.10" x2="174.30" y2="153.00" stroke="#bcbcbc" stroke-width="0.9"/>
<line x1="175.30" y1="149.62" x2="175.30" y2="153.00" stroke="#c4c4c4" stroke-width="0.9"/>
<line x1="176.50" y1="148.28" x2="176.50" y2="153.00" stroke="#b0b0b0" stroke-width="0.9"/>
<line x1="177.30" y1="142.51" x2="177.30" y2="153.00" stroke="#989898" stroke-width="0.9"/>
<line x1="179.10" y1="140.18" x2="179.10" y2="153.00" stroke="#c4c4c4" stroke-width="0.9"/>
<line x1="180.10" y1="140.07" x2="180.10" y2="153.00" stroke="#a4a4a4" stroke-width="0.9"/>
<line x1="181.60" y1="138.50" x2="181.60" y2="153.00" stroke="#b0b0b0" stroke-width="0.9"/>
<line x1="182.60" y1="146.17" x2="182.60" y2="153.00" stroke="#a4a4a4" stroke-width="0.9"/>
<line x1="184.40" y1="145.27" x2="184.40" y2="153.00" stroke="#c4c4c4" stroke-width="0.9"/>
<line x1="186.20" y1="134.01" x2="186.20" y2="153.00" stroke="#c4c4c4" stroke-width="0.9"/>
<line x1="187.00" y1="149.38" x2="187.00" y2="153.00" stroke="#a4a4a4" stroke-width="0.9"/>
<line x1="188.80" y1="145.77" x2="188.80" y2="153.00" stroke="#a4a4a4" stroke-width="0.9"/>
<line x1="190.30" y1="132.87" x2="190.30" y2="153.00" stroke="#c4c4c4" stroke-width="0.9"/>
<line x1="192.10" y1="149.38" x2="192.10" y2="153.00" stroke="#c4c4c4" stroke-width="0.9"/>
<line x1="193.90" y1="140.33" x2="193.90" y2="153.00" stroke="#b0b0b0" stroke-width="0.9"/>
<line x1="195.70" y1="123.20" x2="195.70" y2="153.00" stroke="#bcbcbc" stroke-width="0.9"/>
<line x1="197.50" y1="144.19" x2="197.50" y2="153.00" stroke="#989898" stroke-width="0.9"/>
<line x1="198.50" y1="148.51" x2="198.50" y2="153.00" stroke="#bcbcbc" stroke-width="0.9"/>
<line x1="199.30" y1="141.53" x2="199.30" y2="153.00" stroke="#b0b0b0" stroke-width="0.9"/>
<line x1="200.50" y1="127.81" x2="200.50" y2="153.00" stroke="#b0b0b0" stroke-width="0.9"/>
<line x1="201.70" y1="140.28" x2="201.70" y2="153.00" stroke="#989898" stroke-width="0.9"/>
<line x1="202.70" y1="145.21" x2="202.70" y2="153.00" stroke="#989898" stroke-width="0.9"/>
<line x1="203.70" y1="131.71" x2="203.70" y2="153.00" stroke="#b0b0b0" stroke-width="0.9"/>
<line x1="205.20" y1="141.86" x2="205.20" y2="153.00" stroke="#989898" stroke-width="0.9"/>
<line x1="206.20" y1="150.52" x2="206.20" y2="153.00" stroke="#bcbcbc" stroke-width="0.9"/>
<line x1="207.00" y1="147.93" x2="207.00" y2="153.00" stroke="#8c8c8c" stroke-width="0.9"/>
<line x1="207.80" y1="147.36" x2="207.80" y2="153.00" stroke="#bcbcbc" stroke-width="0.9"/>
<line x1="209.60" y1="145.04" x2="209.60" y2="153.00" stroke="#b0b0b0" stroke-width="0.9"/>
<line x1="210.40" y1="149.41" x2="210.40" y2="153.00" stroke="#b0b0b0" stroke-width="0.9"/>
<line x1="211.60" y1="132.29" x2="211.60" y2="153.00" stroke="#8c8c8c" stroke-width="0.9"/>
<line x1="212.80" y1="147.15" x2="212.80" y2="153.00" stroke="#c4c4c4" stroke-width="0.9"/>
<line x1="214.60" y1="142.83" x2="214.60" y2="153.00" stroke="#bcbcbc" stroke-width="0.9"/>
<line x1="215.40" y1="144.38" x2="215.40" y2="153.00" stroke="#a4a4a4" stroke-width="0.9"/>
<line x1="216.60" y1="137.95" x2="216.60" y2="153.00" stroke="#bcbcbc" stroke-width="0.9"/>
<line x1="217.40" y1="143.99" x2="217.40" y2="153.00" stroke="#bcbcbc" stroke-width="0.9"/>
<line x1="218.20" y1="142.69" x2="218.20" y2="153.00" stroke="#c4c4c4" stroke-width="0.9"/>
<line x1="219.70" y1="143.51" x2="219.70" y2="153.00" stroke="#b0b0b0" stroke-width="0.9"/>
<line x1="220.50" y1="143.82" x2="220.50" y2="153.00" stroke="#a4a4a4" stroke-width="0.9"/>
<line x1="221.50" y1="150.00" x2="221.50" y2="153.00" stroke="#bcbcbc" stroke-width="0.9"/>
<line x1="222.70" y1="144.16" x2="222.70" y2="153.00" stroke="#989898" stroke-width="0.9"/>
<line x1="224.50" y1="143.48" x2="224.50" y2="153.00" stroke="#a4a4a4" stroke-width="0.9"/>
<line x1="225.70" y1="150.91" x2="225.70" y2="153.00" stroke="#c4c4c4" stroke-width="0.9"/>
<line x1="227.50" y1="140.22" x2="227.50" y2="153.00" stroke="#b0b0b0" stroke-width="0.9"/>
<line x1="229.00" y1="142.46" x2="229.00" y2="153.00" stroke="#989898" stroke-width="0.9"/>
<line x1="230.50" y1="128.43" x2="230.50" y2="153.00" stroke="#c4c4c4" stroke-width="0.9"/>
<line x1="231.70" y1="126.43" x2="231.70" y2="153.00" stroke="#8c8c8c" stroke-width="0.9"/>
<line x1="232.70" y1="148.86" x2="232.70" y2="153.00" stroke="#a4a4a4" stroke-width="0.9"/>
<line x1="233.70" y1="146.09" x2="233.70" y2="153.00" stroke="#bcbcbc" stroke-width="0.9"/>
<line x1="235.20" y1="150.56" x2="235.20" y2="153.00" stroke="#989898" stroke-width="0.9"/>
<line x1="237.00" y1="143.35" x2="237.00" y2="153.00" stroke="#b0b0b0" stroke-width="0.9"/>
<line x1="238.20" y1="149.98" x2="238.20" y2="153.00" stroke="#bcbcbc" stroke-width="0.9"/>
<line x1="239.70" y1="148.74" x2="239.70" y2="153.00" stroke="#bcbcbc" stroke-width="0.9"/>
<line x1="241.50" y1="150.82" x2="241.50" y2="153.00" stroke="#bcbcbc" stroke-width="0.9"/>
<line x1="242.50" y1="150.99" x2="242.50" y2="153.00" stroke="#989898" stroke-width="0.9"/>
<line x1="243.30" y1="140.41" x2="243.30" y2="153.00" stroke="#b0b0b0" stroke-width="0.9"/>
<line x1="244.30" y1="145.96" x2="244.30" y2="153.00" stroke="#bcbcbc" stroke-width="0.9"/>
<line x1="245.10" y1="146.58" x2="245.10" y2="153.00" stroke="#989898" stroke-width="0.9"/>
<line x1="245.90" y1="146.03" x2="245.90" y2="153.00" stroke="#a4a4a4" stroke-width="0.9"/>
<line x1="247.70" y1="130.65" x2="247.70" y2="153.00" stroke="#b0b0b0" stroke-width="0.9"/>
<line x1="249.50" y1="149.03" x2="249.50" y2="153.00" stroke="#989898" stroke-width="0.9"/>
<line x1="250.50" y1="146.18" x2="250.50" y2="153.00" stroke="#b0b0b0" stroke-width="0.9"/>
<line x1="251.30" y1="135.96" x2="251.30" y2="153.00" stroke="#c4c4c4" stroke-width="0.9"/>
<line x1="252.80" y1="132.62" x2="252.80" y2="153.00" stroke="#b0b0b0" stroke-width="0.9"/>
<line x1="254.60" y1="139.28" x2="254.60" y2="153.00" stroke="#a4a4a4" stroke-width="0.9"/>
<line x1="256.40" y1="136.06" x2="256.40" y2="153.00" stroke="#8c8c8c" stroke-width="0.9"/>
<line x1="257.40" y1="150.79" x2="257.40" y2="153.00" stroke="#8c8c8c" stroke-width="0.9"/>
<line x1="258.60" y1="142.22" x2="258.60" y2="153.00" stroke="#989898" stroke-width="0.9"/>
<line x1="260.40" y1="150.90" x2="260.40" y2="153.00" stroke="#c4c4c4" stroke-width="0.9"/>
<line x1="261.40" y1="145.97" x2="261.40" y2="153.00" stroke="#a4a4a4" stroke-width="0.9"/>
<line x1="263.20" y1="145.23" x2="263.20" y2="153.00" stroke="#c4c4c4" stroke-width="0.9"/>
<line x1="264.00" y1="140.86" x2="264.00" y2="153.00" stroke="#a4a4a4" stroke-width="0.9"/>
<line x1="265.20" y1="143.94" x2="265.20" y2="153.00" stroke="#b0b0b0" stroke-width="0.9"/>
<line x1="266.70" y1="142.14" x2="266.70" y2="153.00" stroke="#989898" stroke-width="0.9"/>
<line x1="267.90" y1="138.32" x2="267.90" y2="153.00" stroke="#8c8c8c" stroke-width="0.9"/>
<line x1="268.90" y1="150.20" x2="268.90" y2="153.00" stroke="#bcbcbc" stroke-width="0.9"/>
<line x1="270.10" y1="144.85" x2="270.10" y2="153.00" stroke="#989898" stroke-width="0.9"/>
<line x1="270.90" y1="124.00" x2="270.90" y2="153.00" stroke="#b0b0b0" stroke-width="0.9"/>
<line x1="272.40" y1="147.37" x2="272.40" y2="153.00" stroke="#989898" stroke-width="0.9"/>
<line x1="273.90" y1="144.99" x2="273.90" y2="153.00" stroke="#c4c4c4" stroke-width="0.9"/>
<line x1="274.90" y1="150.55" x2="274.90" y2="153.00" stroke="#989898" stroke-width="0.9"/>
<line x1="275.70" y1="150.60" x2="275.70" y2="153.00" stroke="#c4c4c4" stroke-width="0.9"/>
<line x1="277.20" y1="142.09" x2="277.20" y2="153.00" stroke="#b0b0b0" stroke-width="0.9"/>
<line x1="278.00" y1="144.78" x2="278.00" y2="153.00" stroke="#c4c4c4" stroke-width="0.9"/>
<line x1="279.20" y1="144.86" x2="279.20" y2="153.00" stroke="#8c8c8c" stroke-width="0.9"/>
<line x1="281.00" y1="150.40" x2="281.00" y2="153.00" stroke="#bcbcbc" stroke-width="0.9"/>
<line x1="282.00" y1="129.29" x2="282.00" y2="153.00" stroke="#989898" stroke-width="0.9"/>
<line x1="282.80" y1="136.03" x2="282.80" y2="153.00" stroke="#8c8c8c" stroke-width="0.9"/>
<line x1="284.30" y1="144.51" x2="284.30" y2="153.00" stroke="#989898" stroke-width="0.9"/>
<line x1="285.50" y1="150.36" x2="285.50" y2="153.00" stroke="#bcbcbc" stroke-width="0.9"/>
<line x1="286.30" y1="148.94" x2="286.30" y2="153.00" stroke="#989898" stroke-width="0.9"/>
<line x1="287.10" y1="144.26" x2="287.10" y2="153.00" stroke="#a4a4a4" stroke-width="0.9"/>
<line x1="288.30" y1="150.66" x2="288.30" y2="153.00" stroke="#989898" stroke-width="0.9"/>
<line x1="290.10" y1="138.02" x2="290.10" y2="153.00" stroke="#bcbcbc" stroke-width="0.9"/>
<line x1="290.90" y1="150.74" x2="290.90" y2="153.00" stroke="#8c8c8c" stroke-width="0.9"/>
<line x1="292.10" y1="144.71" x2="292.10" y2="153.00" stroke="#bcbcbc" stroke-width="0.9"/>
<line x1="293.60" y1="144.32" x2="293.60" y2="153.00" stroke="#bcbcbc" stroke-width="0.9"/>
<line x1="295.10" y1="132.63" x2="295.10" y2="153.00" stroke="#8c8c8c" stroke-width="0.9"/>
<line x1="296.60" y1="123.40" x2="296.60" y2="153.00" stroke="#c4c4c4" stroke-width="0.9"/>
<line x1="297.60" y1="145.59" x2="297.60" y2="153.00" stroke="#8c8c8c" stroke-width="0.9"/>
<line x1="299.10" y1="134.82" x2="299.10" y2="153.00" stroke="#8c8c8c" stroke-width="0.9"/>
<line x1="300.30" y1="126.57" x2="300.30" y2="153.00" stroke="#c4c4c4" stroke-width="0.9"/>
<line x1="301.30" y1="148.32" x2="301.30" y2="153.00" stroke="#bcbcbc" stroke-width="0.9"/>
<line x1="302.50" y1="144.29" x2="302.50" y2="153.00" stroke="#8c8c8c" stroke-width="0.9"/>
<line x1="303.70" y1="149.64" x2="303.70" y2="153.00" stroke="#989898" stroke-width="0.9"/>
<line x1="305.50" y1="144.98" x2="305.50" y2="153.00" stroke="#8c8c8c" stroke-width="0.9"/>
<line x1="306.50" y1="147.53" x2="306.50" y2="153.00" stroke="#989898" stroke-width="0.9"/>
<line x1="308.30" y1="139.16" x2="308.30" y2="153.00" stroke="#989898" stroke-width="0.9"/>
<line x1="309.80" y1="149.93" x2="309.80" y2="153.00" stroke="#a4a4a4" stroke-width="0.9"/>
<line x1="310.80" y1="150.52" x2="310.80" y2="153.00" stroke="#b0b0b0" stroke-width="0.9"/>
<line x1="312.00" y1="146.78" x2="312.00" y2="153.00" stroke="#a4a4a4" stroke-width="0.9"/>
<line x1="313.50" y1="144.15" x2="313.50" y2="153.00" stroke="#b0b0b0" stroke-width="0.9"/>
<line x1="315.00" y1="144.03" x2="315.00" y2="153.00" stroke="#989898" stroke-width="0.9"/>
<line x1="316.20" y1="142.43" x2="316.20" y2="153.00" stroke="#8c8c8c" stroke-width="0.9"/>
<line x1="318.00" y1="133.50" x2="318.00" y2="153.00" stroke="#b0b0b0" stroke-width="0.9"/>
<line x1="318.80" y1="149.57" x2="318.80" y2="153.00" stroke="#989898" stroke-width="0.9"/>
<line x1="320.30" y1="149.13" x2="320.30" y2="153.00" stroke="#a4a4a4" stroke-width="0.9"/>
<line x1="321.30" y1="144.82" x2="321.30" y2="153.00" stroke="#989898" stroke-width="0.9"/>
<line x1="323.10" y1="145.39" x2="323.10" y2="153.00" stroke="#c4c4c4" stroke-width="0.9"/>
<line x1="324.60" y1="143.71" x2="324.60" y2="153.00" stroke="#a4a4a4" stroke-width="0.9"/>
<line x1="325.60" y1="147.31" x2="325.60" y2="153.00" stroke="#8c8c8c" stroke-width="0.9"/>
<line x1="326.40" y1="135.77" x2="326.40" y2="153.00" stroke="#8c8c8c" stroke-width="0.9"/>
<line x1="327.90" y1="143.50" x2="327.90" y2="153.00" stroke="#a4a4a4" stroke-width="0.9"/>
<line x1="328.90" y1="138.38" x2="328.90" y2="153.00" stroke="#8c8c8c" stroke-width="0.9"/>
<line x1="330.10" y1="138.12" x2="330.10" y2="153.00" stroke="#c4c4c4" stroke-width="0.9"/>
<line x1="331.60" y1="145.05" x2="331.60" y2="153.00" stroke="#a4a4a4" stroke-width="0.9"/>
<line x1="332.80" y1="139.00" x2="332.80" y2="153.00" stroke="#989898" stroke-width="0.9"/>
<line x1="334.00" y1="146.41" x2="334.00" y2="153.00" stroke="#a4a4a4" stroke-width="0.9"/>
<line x1="335.80" y1="147.91" x2="335.80" y2="153.00" stroke="#bcbcbc" stroke-width="0.9"/>
<line x1="336.80" y1="143.86" x2="336.80" y2="153.00" stroke="#b0b0b0" stroke-width="0.9"/>
<line x1="337.60" y1="136.24" x2="337.60" y2="153.00" stroke="#bcbcbc" stroke-width="0.9"/>
<line x1="338.40" y1="147.55" x2="338.40" y2="153.00" stroke="#8c8c8c" stroke-width="0.9"/>
<line x1="339.90" y1="149.71" x2="339.90" y2="153.00" stroke="#989898" stroke-width="0.9"/>
<line x1="341.10" y1="150.83" x2="341.10" y2="153.00" stroke="#bcbcbc" stroke-width="0.9"/>
<line x1="342.60" y1="148.48" x2="342.60" y2="153.00" stroke="#a4a4a4" stroke-width="0.9"/>
<line x1="343.80" y1="140.38" x2="343.80" y2="153.00" stroke="#b0b0b0" stroke-width="0.9"/>
<line x1="345.30" y1="143.01" x2="345.30" y2="153.00" stroke="#b0b0b0" stroke-width="0.9"/>
<line x1="346.30" y1="143.54" x2="346.30" y2="153.00" stroke="#bcbcbc" stroke-width="0.9"/>
<line x1="347.10" y1="140.52" x2="347.10" y2="153.00" stroke="#b0b0b0" stroke-width="0.9"/>
<line x1="348.10" y1="126.70" x2="348.10" y2="153.00" stroke="#a4a4a4" stroke-width="0.9"/>
<line x1="349.90" y1="148.50" x2="349.90" y2="153.00" stroke="#b0b0b0" stroke-width="0.9"/>
<line x1="350.70" y1="144.78" x2="350.70" y2="153.00" stroke="#a4a4a4" stroke-width="0.9"/>
<line x1="351.50" y1="148.01" x2="351.50" y2="153.00" stroke="#8c8c8c" stroke-width="0.9"/>
<line x1="352.70" y1="132.32" x2="352.70" y2="153.00" stroke="#bcbcbc" stroke-width="0.9"/>
<line x1="353.70" y1="137.26" x2="353.70" y2="153.00" stroke="#8c8c8c" stroke-width="0.9"/>
<line x1="355.20" y1="145.54" x2="355.20" y2="153.00" stroke="#989898" stroke-width="0.9"/>
<line x1="356.40" y1="141.33" x2="356.40" y2="153.00" stroke="#a4a4a4" stroke-width="0.9"/>
<line x1="357.20" y1="150.58" x2="357.20" y2="153.00" stroke="#989898" stroke-width="0.9"/>
<line x1="358.00" y1="134.62" x2="358.00" y2="153.00" stroke="#989898" stroke-width="0.9"/>
<line x1="359.20" y1="143.05" x2="359.20" y2="153.00" stroke="#989898" stroke-width="0.9"/>
<line x1="360.00" y1="147.79" x2="360.00" y2="153.00" stroke="#bcbcbc" stroke-width="0.9"/>
<line x1="361.80" y1="144.28" x2="361.80" y2="153.00" stroke="#bcbcbc" stroke-width="0.9"/>
<line x1="363.30" y1="148.36" x2="363.30" y2="153.00" stroke="#8c8c8c" stroke-width="0.9"/>
<line x1="364.80" y1="150.82" x2="364.80" y2="153.00" stroke="#a4a4a4" stroke-width="0.9"/>
<line x1="365.60" y1="144.12" x2="365.60" y2="153.00" stroke="#c4c4c4" stroke-width="0.9"/>
<line x1="366.80" y1="148.96" x2="366.80" y2="153.00" stroke="#c4c4c4" stroke-width="0.9"/>
<line x1="367.60" y1="144.69" x2="367.60" y2="153.00" stroke="#bcbcbc" stroke-width="0.9"/>
<line x1="368.80" y1="144.61" x2="368.80" y2="153.00" stroke="#c4c4c4" stroke-width="0.9"/>
<line x1="369.60" y1="149.67" x2="369.60" y2="153.00" stroke="#989898" stroke-width="0.9"/>
<line x1="371.10" y1="142.09" x2="371.10" y2="153.00" stroke="#bcbcbc" stroke-width="0.9"/>
<line x1="372.60" y1="144.86" x2="372.60" y2="153.00" stroke="#989898" stroke-width="0.9"/>
<line x1="373.60" y1="137.63" x2="373.60" y2="153.00" stroke="#bcbcbc" stroke-width="0.9"/>
<line x1="374.60" y1="142.82" x2="374.60" y2="153.00" stroke="#bcbcbc" stroke-width="0.9"/>
<line x1="376.10" y1="143.38" x2="376.10" y2="153.00" stroke="#a4a4a4" stroke-width="0.9"/>
<line x1="377.90" y1="144.01" x2="377.90" y2="153.00" stroke="#b0b0b0" stroke-width="0.9"/>
<line x1="379.40" y1="150.83" x2="379.40" y2="153.00" stroke="#c4c4c4" stroke-width="0.9"/>
<line x1="381.20" y1="131.38" x2="381.20" y2="153.00" stroke="#a4a4a4" stroke-width="0.9"/>
<line x1="382.00" y1="150.56" x2="382.00" y2="153.00" stroke="#a4a4a4" stroke-width="0.9"/>
<line x1="383.50" y1="136.10" x2="383.50" y2="153.00" stroke="#989898" stroke-width="0.9"/>
<line x1="384.50" y1="148.30" x2="384.50" y2="153.00" stroke="#c4c4c4" stroke-width="0.9"/>
<line x1="385.50" y1="130.98" x2="385.50" y2="153.00" stroke="#8c8c8c" stroke-width="0.9"/>
<line x1="386.30" y1="143.22" x2="386.30" y2="153.00" stroke="#bcbcbc" stroke-width="0.9"/>
<line x1="388.10" y1="149.53" x2="388.10" y2="153.00" stroke="#bcbcbc" stroke-width="0.9"/>
<line x1="389.10" y1="149.97" x2="389.10" y2="153.00" stroke="#b0b0b0" stroke-width="0.9"/>
<line x1="390.10" y1="139.09" x2="390.10" y2="153.00" stroke="#b0b0b0" stroke-width="0.9"/>
<line x1="391.30" y1="149.55" x2="391.30" y2="153.00" stroke="#b0b0b0" stroke-width="0.9"/>
<line x1="393.10" y1="137.61" x2="393.10" y2="153.00" stroke="#a4a4a4" stroke-width="0.9"/>
<line x1="394.60" y1="145.14" x2="394.60" y2="153.00" stroke="#989898" stroke-width="0.9"/>
<line x1="395.60" y1="126.34" x2="395.60" y2="153.00" stroke="#a4a4a4" stroke-width="0.9"/>
<line x1="396.80" y1="150.74" x2="396.80" y2="153.00" stroke="#c4c4c4" stroke-width="0.9"/>
<line x1="398.60" y1="150.61" x2="398.60" y2="153.00" stroke="#c4c4c4" stroke-width="0.9"/>
<line x1="399.60" y1="149.49" x2="399.60" y2="153.00" stroke="#8c8c8c" stroke-width="0.9"/>
<line x1="400.40" y1="146.47" x2="400.40" y2="153.00" stroke="#c4c4c4" stroke-width="0.9"/>
<line x1="401.60" y1="148.70" x2="401.60" y2="153.00" stroke="#b0b0b0" stroke-width="0.9"/>
<line x1="402.40" y1="149.53" x2="402.40" y2="153.00" stroke="#c4c4c4" stroke-width="0.9"/>
<line x1="403.40" y1="132.33" x2="403.40" y2="153.00" stroke="#989898" stroke-width="0.9"/>
<line x1="404.60" y1="149.13" x2="404.60" y2="153.00" stroke="#b0b0b0" stroke-width="0.9"/>
<line x1="405.40" y1="139.65" x2="405.40" y2="153.00" stroke="#a4a4a4" stroke-width="0.9"/>
<line x1="406.90" y1="148.48" x2="406.90" y2="153.00" stroke="#c4c4c4" stroke-width="0.9"/>
<line x1="407.90" y1="145.24" x2="407.90" y2="153.00" stroke="#b0b0b0" stroke-width="0.9"/>
<line x1="409.40" y1="141.78" x2="409.40" y2="153.00" stroke="#bcbcbc" stroke-width="0.9"/>
<line x1="410.60" y1="150.74" x2="410.60" y2="153.00" stroke="#8c8c8c" stroke-width="0.9"/>
<line x1="412.40" y1="141.72" x2="412.40" y2="153.00" stroke="#a4a4a4" stroke-width="0.9"/>
<line x1="413.60" y1="142.04" x2="413.60" y2="153.00" stroke="#989898" stroke-width="0.9"/>
<line x1="414.60" y1="141.44" x2="414.60" y2="153.00" stroke="#b0b0b0" stroke-width="0.9"/>
<line x1="416.10" y1="150.53" x2="416.10" y2="153.00" stroke="#c4c4c4" stroke-width="0.9"/>
<line x1="417.30" y1="144.58" x2="417.30" y2="153.00" stroke="#a4a4a4" stroke-width="0.9"/>
<line x1="418.10" y1="137.81" x2="418.10" y2="153.00" stroke="#989898" stroke-width="0.9"/>
<line x1="418.90" y1="125.04" x2="418.90" y2="153.00" stroke="#8c8c8c" stroke-width="0.9"/>
<line x1="420.70" y1="148.86" x2="420.70" y2="153.00" stroke="#b0b0b0" stroke-width="0.9"/>
<line x1="422.50" y1="150.65" x2="422.50" y2="153.00" stroke="#989898" stroke-width="0.9"/>
<line x1="424.00" y1="133.43" x2="424.00" y2="153.00" stroke="#b0b0b0" stroke-width="0.9"/>
<line x1="425.20" y1="136.67" x2="425.20" y2="153.00" stroke="#989898" stroke-width="0.9"/>
<line x1="426.40" y1="137.97" x2="426.40" y2="153.00" stroke="#989898" stroke-width="0.9"/>
<line x1="427.20" y1="138.25" x2="427.20" y2="153.00" stroke="#b0b0b0" stroke-width="0.9"/>
<line x1="428.20" y1="138.37" x2="428.20" y2="153.00" stroke="#b0b0b0" stroke-width="0.9"/>
<line x1="429.70" y1="149.77" x2="429.70" y2="153.00" stroke="#989898" stroke-width="0.9"/>
<line x1="431.50" y1="148.77" x2="431.50" y2="153.00" stroke="#b0b0b0" stroke-width="0.9"/>
<line x1="432.50" y1="132.47" x2="432.50" y2="153.00" stroke="#b0b0b0" stroke-width="0.9"/>
<line x1="433.30" y1="131.21" x2="433.30" y2="153.00" stroke="#8c8c8c" stroke-width="0.9"/>
<line x1="434.10" y1="142.87" x2="434.10" y2="153.00" stroke="#989898" stroke-width="0.9"/>
<line x1="435.90" y1="130.88" x2="435.90" y2="153.00" stroke="#bcbcbc" stroke-width="0.9"/>
<line x1="437.40" y1="149.57" x2="437.40" y2="153.00" stroke="#989898" stroke-width="0.9"/>
<line x1="438.60" y1="148.12" x2="438.60" y2="153.00" stroke="#a4a4a4" stroke-width="0.9"/>
<line x1="439.40" y1="140.62" x2="439.40" y2="153.00" stroke="#b0b0b0" stroke-width="0.9"/>
<line x1="440.90" y1="133.89" x2="440.90" y2="153.00" stroke="#989898" stroke-width="0.9"/>
<line x1="441.90" y1="141.91" x2="441.90" y2="153.00" stroke="#a4a4a4" stroke-width="0.9"/>
<line x1="442.90" y1="148.73" x2="442.90" y2="153.00" stroke="#989898" stroke-width="0.9"/>
<line x1="444.70" y1="145.67" x2="444.70" y2="153.00" stroke="#8c8c8c" stroke-width="0.9"/>
<line x1="445.70" y1="144.39" x2="445.70" y2="153.00" stroke="#8c8c8c" stroke-width="0.9"/>
<line x1="447.50" y1="144.03" x2="447.50" y2="153.00" stroke="#989898" stroke-width="0.9"/>
<line x1="448.50" y1="150.66" x2="448.50" y2="153.00" stroke="#c4c4c4" stroke-width="0.9"/>
<line x1="449.30" y1="130.99" x2="449.30" y2="153.00" stroke="#989898" stroke-width="0.9"/>
<line x1="450.50" y1="126.18" x2="450.50" y2="153.00" stroke="#b0b0b0" stroke-width="0.9"/>
<line x1="451.50" y1="148.84" x2="451.50" y2="153.00" stroke="#bcbcbc" stroke-width="0.9"/>
<line x1="452.50" y1="146.25" x2="452.50" y2="153.00" stroke="#989898" stroke-width="0.9"/>
<line x1="453.50" y1="134.33" x2="453.50" y2="153.00" stroke="#989898" stroke-width="0.9"/>
<line x1="454.50" y1="138.35" x2="454.50" y2="153.00" stroke="#b0b0b0" stroke-width="0.9"/>
<line x1="455.70" y1="149.89" x2="455.70" y2="153.00" stroke="#989898" stroke-width="0.9"/>
<line x1="456.70" y1="143.39" x2="456.70" y2="153.00" stroke="#bcbcbc" stroke-width="0.9"/>
<line x1="458.20" y1="143.32" x2="458.20" y2="153.00" stroke="#a4a4a4" stroke-width="0.9"/>
<line x1="460.00" y1="141.23" x2="460.00" y2="153.00" stroke="#989898" stroke-width="0.9"/>
<line x1="461.80" y1="136.66" x2="461.80" y2="153.00" stroke="#a4a4a4" stroke-width="0.9"/>
<line x1="463.00" y1="138.05" x2="463.00" y2="153.00" stroke="#989898" stroke-width="0.9"/>
<line x1="464.20" y1="127.72" x2="464.20" y2="153.00" stroke="#c4c4c4" stroke-width="0.9"/>
<line x1="465.20" y1="143.77" x2="465.20" y2="153.00" stroke="#989898" stroke-width="0.9"/>
<line x1="466.20" y1="144.20" x2="466.20" y2="153.00" stroke="#a4a4a4" stroke-width="0.9"/>
<line x1="467.40" y1="143.66" x2="467.40" y2="153.00" stroke="#8c8c8c" stroke-width="0.9"/>
<line x1="469.20" y1="127.91" x2="469.20" y2="153.00" stroke="#8c8c8c" stroke-width="0.9"/>
<line x1="470.00" y1="144.00" x2="470.00" y2="153.00" stroke="#bcbcbc" stroke-width="0.9"/>
<line x1="471.80" y1="141.67" x2="471.80" y2="153.00" stroke="#bcbcbc" stroke-width="0.9"/>
<line x1="472.60" y1="149.71" x2="472.60" y2="153.00" stroke="#8c8c8c" stroke-width="0.9"/>
<line x1="473.40" y1="150.99" x2="473.40" y2="153.00" stroke="#bcbcbc" stroke-width="0.9"/>
<line x1="474.60" y1="148.79" x2="474.60" y2="153.00" stroke="#b0b0b0" stroke-width="0.9"/>
<line x1="476.10" y1="138.88" x2="476.10" y2="153.00" stroke="#b0b0b0" stroke-width="0.9"/>
<line x1="477.30" y1="140.85" x2="477.30" y2="153.00" stroke="#b0b0b0" stroke-width="0.9"/>
<line x1="478.10" y1="143.77" x2="478.10" y2="153.00" stroke="#b0b0b0" stroke-width="0.9"/>
<line x1="479.60" y1="145.92" x2="479.60" y2="153.00" stroke="#8c8c8c" stroke-width="0.9"/>
<line x1="480.80" y1="149.47" x2="480.80" y2="153.00" stroke="#a4a4a4" stroke-width="0.9"/>
<line x1="481.60" y1="139.39" x2="481.60" y2="153.00" stroke="#bcbcbc" stroke-width="0.9"/>
<line x1="483.40" y1="141.31" x2="483.40" y2="153.00" stroke="#c4c4c4" stroke-width="0.9"/>
<line x1="484.90" y1="139.31" x2="484.90" y2="153.00" stroke="#a4a4a4" stroke-width="0.9"/>
<line x1="485.70" y1="141.83" x2="485.70" y2="153.00" stroke="#b0b0b0" stroke-width="0.9"/>
<line x1="486.70" y1="143.45" x2="486.70" y2="153.00" stroke="#a4a4a4" stroke-width="0.9"/>
<line x1="488.50" y1="123.37" x2="488.50" y2="153.00" stroke="#b0b0b0" stroke-width="0.9"/>
<line x1="490.00" y1="146.32" x2="490.00" y2="153.00" stroke="#c4c4c4" stroke-width="0.9"/>
<line x1="491.50" y1="144.46" x2="491.50" y2="153.00" stroke="#bcbcbc" stroke-width="0.9"/>
<line x1="492.30" y1="150.75" x2="492.30" y2="153.00" stroke="#8c8c8c" stroke-width="0.9"/>
<line x1="493.80" y1="145.95" x2="493.80" y2="153.00" stroke="#989898" stroke-width="0.9"/>
<line x1="495.30" y1="145.67" x2="495.30" y2="153.00" stroke="#b0b0b0" stroke-width="0.9"/>
<line x1="496.30" y1="143.58" x2="496.30" y2="153.00" stroke="#8c8c8c" stroke-width="0.9"/>
<line x1="497.10" y1="139.91" x2="497.10" y2="153.00" stroke="#8c8c8c" stroke-width="0.9"/>
<line x1="498.30" y1="143.53" x2="498.30" y2="153.00" stroke="#c4c4c4" stroke-width="0.9"/>
<line x1="499.80" y1="126.06" x2="499.80" y2="153.00" stroke="#bcbcbc" stroke-width="0.9"/>
<line x1="501.00" y1="125.17" x2="501.00" y2="153.00" stroke="#c4c4c4" stroke-width="0.9"/>
<line x1="501.80" y1="139.25" x2="501.80" y2="153.00" stroke="#8c8c8c" stroke-width="0.9"/>
<line x1="502.80" y1="135.03" x2="502.80" y2="153.00" stroke="#bcbcbc" stroke-width="0.9"/>
<line x1="503.80" y1="142.81" x2="503.80" y2="153.00" stroke="#b0b0b0" stroke-width="0.9"/>
<line x1="505.30" y1="138.03" x2="505.30" y2="153.00" stroke="#8c8c8c" stroke-width="0.9"/>
<line x1="507.10" y1="131.35" x2="507.10" y2="153.00" stroke="#8c8c8c" stroke-width="0.9"/>
<line x1="507.90" y1="141.40" x2="507.90" y2="153.00" stroke="#8c8c8c" stroke-width="0.9"/>
<line x1="508.90" y1="143.06" x2="508.90" y2="153.00" stroke="#b0b0b0" stroke-width="0.9"/>
<line x1="96.00" y1="142.00" x2="96.00" y2="153.00" stroke="#b0b0b0" stroke-width="1.0"/>
<line x1="98.60" y1="136.30" x2="98.60" y2="153.00" stroke="#b0b0b0" stroke-width="1.0"/>
<line x1="100.50" y1="138.00" x2="100.50" y2="153.00" stroke="#a0a0a0" stroke-width="1.0"/>
<line x1="103.00" y1="124.80" x2="103.00" y2="153.00" stroke="#b0b0b0" stroke-width="1.0"/>
<line x1="106.30" y1="116.20" x2="106.30" y2="153.00" stroke="#a0a0a0" stroke-width="1.0"/>
<line x1="108.20" y1="131.20" x2="108.20" y2="153.00" stroke="#a0a0a0" stroke-width="1.0"/>
<line x1="111.00" y1="141.00" x2="111.00" y2="153.00" stroke="#a0a0a0" stroke-width="1.0"/>
<line x1="113.40" y1="73.70" x2="113.40" y2="153.00" stroke="#ababab" stroke-width="1.0"/>
<line x1="115.00" y1="31.80" x2="115.00" y2="153.00" stroke="#ababab" stroke-width="1.0"/>
<line x1="116.80" y1="146.00" x2="116.80" y2="153.00" stroke="#a0a0a0" stroke-width="1.0"/>
<line x1="119.70" y1="143.00" x2="119.70" y2="153.00" stroke="#a0a0a0" stroke-width="1.0"/>
<line x1="122.20" y1="136.00" x2="122.20" y2="153.00" stroke="#a0a0a0" stroke-width="1.0"/>
<line x1="123.60" y1="128.70" x2="123.60" y2="153.00" stroke="#b0b0b0" stroke-width="1.0"/>
<line x1="125.50" y1="113.30" x2="125.50" y2="153.00" stroke="#a0a0a0" stroke-width="1.0"/>
<line x1="127.40" y1="122.90" x2="127.40" y2="153.00" stroke="#a8a8a8" stroke-width="1.0"/>
<line x1="130.70" y1="117.10" x2="130.70" y2="153.00" stroke="#a0a0a0" stroke-width="1.0"/>
<line x1="133.20" y1="134.00" x2="133.20" y2="153.00" stroke="#b0b0b0" stroke-width="1.0"/>
<line x1="135.10" y1="125.40" x2="135.10" y2="153.00" stroke="#a0a0a0" stroke-width="1.0"/>
<line x1="138.00" y1="143.00" x2="138.00" y2="153.00" stroke="#a0a0a0" stroke-width="1.0"/>
<line x1="140.30" y1="131.50" x2="140.30" y2="153.00" stroke="#a0a0a0" stroke-width="1.0"/>
<line x1="142.80" y1="137.00" x2="142.80" y2="153.00" stroke="#a0a0a0" stroke-width="1.0"/>
<line x1="145.30" y1="139.00" x2="145.30" y2="153.00" stroke="#b0b0b0" stroke-width="1.0"/>
<line x1="149.50" y1="143.00" x2="149.50" y2="153.00" stroke="#b0b0b0" stroke-width="1.0"/>
<line x1="153.40" y1="122.90" x2="153.40" y2="153.00" stroke="#b0b0b0" stroke-width="1.0"/>
<line x1="156.30" y1="129.60" x2="156.30" y2="153.00" stroke="#a0a0a0" stroke-width="1.0"/>
<line x1="159.20" y1="143.00" x2="159.20" y2="153.00" stroke="#b0b0b0" stroke-width="1.0"/>
<line x1="162.40" y1="117.70" x2="162.40" y2="153.00" stroke="#a0a0a0" stroke-width="1.0"/>
<line x1="164.00" y1="139.00" x2="164.00" y2="153.00" stroke="#b0b0b0" stroke-width="1.0"/>
<line x1="166.80" y1="123.80" x2="166.80" y2="153.00" stroke="#a0a0a0" stroke-width="1.0"/>
<line x1="169.70" y1="143.00" x2="169.70" y2="153.00" stroke="#a0a0a0" stroke-width="1.0"/>
<line x1="172.60" y1="123.50" x2="172.60" y2="153.00" stroke="#b0b0b0" stroke-width="1.0"/>
<line x1="175.50" y1="141.00" x2="175.50" y2="153.00" stroke="#a8a8a8" stroke-width="1.0"/>
<line x1="178.00" y1="136.00" x2="178.00" y2="153.00" stroke="#a0a0a0" stroke-width="1.0"/>
<line x1="181.30" y1="138.00" x2="181.30" y2="153.00" stroke="#b0b0b0" stroke-width="1.0"/>
<line x1="183.20" y1="144.00" x2="183.20" y2="153.00" stroke="#b0b0b0" stroke-width="1.0"/>
<line x1="185.70" y1="122.90" x2="185.70" y2="153.00" stroke="#a0a0a0" stroke-width="1.0"/>
<line x1="188.50" y1="126.00" x2="188.50" y2="153.00" stroke="#b0b0b0" stroke-width="1.0"/>
<line x1="192.30" y1="100.40" x2="192.30" y2="153.00" stroke="#a8a8a8" stroke-width="1.0"/>
<line x1="193.70" y1="131.00" x2="193.70" y2="153.00" stroke="#a0a0a0" stroke-width="1.0"/>
<line x1="198.50" y1="124.00" x2="198.50" y2="153.00" stroke="#a0a0a0" stroke-width="1.0"/>
<line x1="202.00" y1="130.00" x2="202.00" y2="153.00" stroke="#a0a0a0" stroke-width="1.0"/>
<line x1="204.80" y1="123.00" x2="204.80" y2="153.00" stroke="#a0a0a0" stroke-width="1.0"/>
<line x1="210.60" y1="110.60" x2="210.60" y2="153.00" stroke="#a0a0a0" stroke-width="1.0"/>
<line x1="212.90" y1="109.60" x2="212.90" y2="153.00" stroke="#a0a0a0" stroke-width="1.0"/>
<line x1="215.40" y1="54.20" x2="215.40" y2="153.00" stroke="#ababab" stroke-width="1.0"/>
<line x1="219.60" y1="115.40" x2="219.60" y2="153.00" stroke="#a0a0a0" stroke-width="1.0"/>
<line x1="221.20" y1="126.00" x2="221.20" y2="153.00" stroke="#b0b0b0" stroke-width="1.0"/>
<line x1="224.40" y1="100.00" x2="224.40" y2="153.00" stroke="#a0a0a0" stroke-width="1.0"/>
<line x1="230.20" y1="135.00" x2="230.20" y2="153.00" stroke="#b0b0b0" stroke-width="1.0"/>
<line x1="234.00" y1="130.00" x2="234.00" y2="153.00" stroke="#b0b0b0" stroke-width="1.0"/>
<line x1="238.80" y1="120.20" x2="238.80" y2="153.00" stroke="#a8a8a8" stroke-width="1.0"/>
<line x1="242.70" y1="135.00" x2="242.70" y2="153.00" stroke="#a8a8a8" stroke-width="1.0"/>
<line x1="247.50" y1="127.00" x2="247.50" y2="153.00" stroke="#a0a0a0" stroke-width="1.0"/>
<line x1="251.30" y1="115.40" x2="251.30" y2="153.00" stroke="#a0a0a0" stroke-width="1.0"/>
<line x1="253.70" y1="136.00" x2="253.70" y2="153.00" stroke="#a0a0a0" stroke-width="1.0"/>
<line x1="259.00" y1="136.00" x2="259.00" y2="153.00" stroke="#b0b0b0" stroke-width="1.0"/>
<line x1="264.40" y1="132.00" x2="264.40" y2="153.00" stroke="#a0a0a0" stroke-width="1.0"/>
<line x1="270.60" y1="120.20" x2="270.60" y2="153.00" stroke="#a8a8a8" stroke-width="1.0"/>
<line x1="276.90" y1="137.00" x2="276.90" y2="153.00" stroke="#a8a8a8" stroke-width="1.0"/>
<line x1="282.00" y1="137.00" x2="282.00" y2="153.00" stroke="#a8a8a8" stroke-width="1.0"/>
<line x1="287.70" y1="128.50" x2="287.70" y2="153.00" stroke="#a8a8a8" stroke-width="1.0"/>
<line x1="293.80" y1="126.20" x2="293.80" y2="153.00" stroke="#a8a8a8" stroke-width="1.0"/>
<line x1="299.20" y1="129.40" x2="299.20" y2="153.00" stroke="#a0a0a0" stroke-width="1.0"/>
<line x1="303.50" y1="134.00" x2="303.50" y2="153.00" stroke="#a8a8a8" stroke-width="1.0"/>
<line x1="310.40" y1="128.00" x2="310.40" y2="153.00" stroke="#a8a8a8" stroke-width="1.0"/>
<line x1="319.40" y1="126.50" x2="319.40" y2="153.00" stroke="#a8a8a8" stroke-width="1.0"/>
<line x1="325.60" y1="124.60" x2="325.60" y2="153.00" stroke="#a0a0a0" stroke-width="1.0"/>
<line x1="330.40" y1="128.00" x2="330.40" y2="153.00" stroke="#b0b0b0" stroke-width="1.0"/>
<line x1="335.80" y1="135.00" x2="335.80" y2="153.00" stroke="#a8a8a8" stroke-width="1.0"/>
<line x1="341.90" y1="128.00" x2="341.90" y2="153.00" stroke="#a8a8a8" stroke-width="1.0"/>
<line x1="356.90" y1="134.00" x2="356.90" y2="153.00" stroke="#b0b0b0" stroke-width="1.0"/>
<line x1="361.70" y1="128.00" x2="361.70" y2="153.00" stroke="#b0b0b0" stroke-width="1.0"/>
<line x1="369.40" y1="133.00" x2="369.40" y2="153.00" stroke="#a8a8a8" stroke-width="1.0"/>
<line x1="376.80" y1="112.70" x2="376.80" y2="153.00" stroke="#a8a8a8" stroke-width="1.0"/>
<line x1="381.70" y1="144.00" x2="381.70" y2="153.00" stroke="#b0b0b0" stroke-width="1.0"/>
<line x1="388.80" y1="122.00" x2="388.80" y2="153.00" stroke="#b0b0b0" stroke-width="1.0"/>
<line x1="390.00" y1="133.50" x2="390.00" y2="153.00" stroke="#a0a0a0" stroke-width="1.0"/>
<line x1="393.70" y1="141.00" x2="393.70" y2="153.00" stroke="#a8a8a8" stroke-width="1.0"/>
<line x1="401.90" y1="133.50" x2="401.90" y2="153.00" stroke="#a0a0a0" stroke-width="1.0"/>
<line x1="403.80" y1="136.00" x2="403.80" y2="153.00" stroke="#a8a8a8" stroke-width="1.0"/>
<line x1="408.70" y1="113.30" x2="408.70" y2="153.00" stroke="#b0b0b0" stroke-width="1.0"/>
<line x1="414.40" y1="139.00" x2="414.40" y2="153.00" stroke="#a0a0a0" stroke-width="1.0"/>
<line x1="420.80" y1="121.00" x2="420.80" y2="153.00" stroke="#a8a8a8" stroke-width="1.0"/>
<line x1="422.70" y1="134.00" x2="422.70" y2="153.00" stroke="#a8a8a8" stroke-width="1.0"/>
<line x1="427.90" y1="133.50" x2="427.90" y2="153.00" stroke="#b0b0b0" stroke-width="1.0"/>
<line x1="434.60" y1="136.00" x2="434.60" y2="153.00" stroke="#a0a0a0" stroke-width="1.0"/>
<line x1="440.00" y1="133.50" x2="440.00" y2="153.00" stroke="#b0b0b0" stroke-width="1.0"/>
<line x1="444.20" y1="107.50" x2="444.20" y2="153.00" stroke="#b0b0b0" stroke-width="1.0"/>
<line x1="448.70" y1="121.00" x2="448.70" y2="153.00" stroke="#a0a0a0" stroke-width="1.0"/>
<line x1="452.90" y1="133.50" x2="452.90" y2="153.00" stroke="#b0b0b0" stroke-width="1.0"/>
<line x1="454.20" y1="119.60" x2="454.20" y2="153.00" stroke="#a0a0a0" stroke-width="1.0"/>
<line x1="459.60" y1="130.60" x2="459.60" y2="153.00" stroke="#b0b0b0" stroke-width="1.0"/>
<line x1="460.00" y1="130.00" x2="460.00" y2="153.00" stroke="#a8a8a8" stroke-width="1.0"/>
<line x1="466.90" y1="135.60" x2="466.90" y2="153.00" stroke="#a0a0a0" stroke-width="1.0"/>
<line x1="471.20" y1="141.00" x2="471.20" y2="153.00" stroke="#a8a8a8" stroke-width="1.0"/>
<line x1="476.30" y1="107.50" x2="476.30" y2="153.00" stroke="#a0a0a0" stroke-width="1.0"/>
<line x1="480.60" y1="120.60" x2="480.60" y2="153.00" stroke="#b0b0b0" stroke-width="1.0"/>
<line x1="484.75" y1="134.00" x2="484.75" y2="153.00" stroke="#a0a0a0" stroke-width="1.0"/>
<line x1="486.00" y1="120.00" x2="486.00" y2="153.00" stroke="#a8a8a8" stroke-width="1.0"/>
<line x1="492.25" y1="129.40" x2="492.25" y2="153.00" stroke="#a0a0a0" stroke-width="1.0"/>
<line x1="494.40" y1="142.00" x2="494.40" y2="153.00" stroke="#a0a0a0" stroke-width="1.0"/>
<line x1="500.25" y1="135.60" x2="500.25" y2="153.00" stroke="#a8a8a8" stroke-width="1.0"/>
<line x1="502.50" y1="141.00" x2="502.50" y2="153.00" stroke="#a8a8a8" stroke-width="1.0"/>
<line x1="506.25" y1="148.00" x2="506.25" y2="153.00" stroke="#a0a0a0" stroke-width="1.0"/>
<line x1="508.50" y1="125.60" x2="508.50" y2="153.00" stroke="#a8a8a8" stroke-width="1.0"/>
<polyline points="336.50,86.12 336.85,85.22 337.20,78.46 337.55,71.91 337.90,81.08 338.25,85.06 338.60,85.45 338.95,85.97 339.30,82.66 339.65,78.33 340.00,79.19 340.35,83.52 340.70,85.85 341.05,86.10 341.40,85.12 341.75,84.95 342.10,81.05 342.45,82.04 342.80,85.51 343.15,85.28 343.50,85.43 343.85,85.14 344.20,84.07 344.55,81.70 344.90,79.47 345.25,81.84 345.60,84.21 345.95,85.34 346.30,85.73 346.65,85.15 347.00,83.36 347.35,78.78 347.70,74.99 348.05,79.57 348.40,84.14 348.75,86.22 349.10,85.69 349.45,86.11 349.80,85.66 350.15,80.66 350.50,71.96 350.85,81.39 351.20,86.29 351.55,85.21 351.90,85.69 352.25,85.57 352.60,85.44 352.95,82.65 353.30,79.40 353.65,77.86 354.00,81.11 354.35,84.36 354.70,81.80 355.05,79.10 355.40,82.80 355.75,85.51 356.10,85.41 356.45,85.09 356.80,83.57 357.15,81.19 357.50,80.39 357.85,82.77 358.20,85.13 358.55,84.90 358.90,81.96 359.25,79.78 359.60,82.73 359.95,85.18 360.30,85.82 360.65,85.68 361.00,85.62 361.35,82.37 361.70,75.46 362.05,76.65 362.40,83.56 362.75,85.58 363.10,85.23 363.45,83.08 363.80,79.90 364.15,82.48 364.50,85.65 364.85,85.95 365.20,85.64 365.55,85.03 365.90,83.19 366.25,80.76 366.60,83.51 366.95,85.89 367.30,85.91 367.65,85.54 368.00,85.47 368.35,85.28 368.70,82.06 369.05,78.54 369.40,82.73 369.75,85.59 370.10,86.24 370.45,85.91 370.80,86.29 371.15,83.69 371.50,78.23 371.85,81.23 372.20,85.44 372.55,85.27 372.90,82.02 373.25,75.59 373.60,72.04 373.95,78.48 374.30,84.91 374.65,85.52 375.00,85.41 375.35,86.02 375.70,83.46 376.05,80.21 376.40,80.24 376.75,83.49 377.10,86.06 377.45,86.25 377.80,84.48 378.15,79.92 378.50,81.85 378.85,85.82 379.20,85.23 379.55,85.28 379.90,85.57 380.25,85.96 380.60,85.91 380.95,82.79 381.30,73.44 381.65,77.11 382.00,85.47 382.35,85.09 382.70,86.23 383.05,85.50 383.40,82.93 383.75,80.36 384.10,79.40 384.45,81.97 384.80,84.54 385.15,85.72 385.50,86.28 385.85,85.80 386.20,85.53 386.55,77.14 386.90,72.49 387.25,80.92 387.60,85.36 387.95,83.32 388.30,81.29 388.65,81.95 389.00,83.99 389.35,86.02 389.70,86.29 390.05,84.69 390.40,82.90 390.75,82.10 391.10,83.89 391.45,85.17 391.80,86.13 392.15,86.28 392.50,85.36 392.85,82.26 393.20,75.54 393.55,78.37 393.90,85.08 394.25,83.55 394.60,79.31 394.95,80.13 395.30,84.37 395.65,86.19 396.00,85.48 396.35,85.38 396.70,85.60 397.05,81.08 397.40,76.56 397.75,79.15 398.10,83.67 398.45,86.29 398.80,86.28 399.15,85.45 399.50,83.44 399.85,80.30 400.20,80.04 400.55,83.18 400.90,86.08 401.25,85.18 401.60,85.67 401.95,86.22 402.30,82.27 402.65,77.08 403.00,71.89 403.35,76.50 403.70,81.69 404.05,85.26 404.40,85.83 404.75,85.46 405.10,84.03 405.45,79.88 405.80,79.46 406.15,83.61 406.50,85.07 406.85,85.28 407.20,80.96 407.55,77.51 407.90,81.98 408.25,85.03 408.60,85.39 408.95,85.22 409.30,85.87 409.65,85.51 410.00,79.18 410.35,71.44 410.70,80.87 411.05,85.90 411.40,85.74 411.75,85.15 412.10,85.81 412.45,85.41 412.80,80.75 413.15,75.94 413.50,78.07 413.85,82.88 414.20,86.30 414.55,83.83 414.90,78.70 415.25,73.57 415.60,74.76 415.95,79.89 416.30,85.01 416.65,85.22 417.00,85.24 417.35,85.17 417.70,85.56 418.05,81.30 418.40,76.67 418.75,81.45 419.10,85.41 419.45,85.11 419.80,85.85 420.15,85.29 420.50,83.77 420.85,83.76 421.20,85.28 421.55,85.32 421.90,85.09 422.25,80.25 422.60,81.94 422.95,85.42 423.30,85.70 423.65,86.03 424.00,85.97 424.35,83.27 424.70,79.79 425.05,81.28 425.40,84.76 425.75,83.02 426.10,78.33 426.45,79.56 426.80,84.25 427.15,85.13 427.50,85.15 427.85,85.62 428.20,85.68 428.55,85.53 428.90,84.31 429.25,79.72 429.60,82.07 429.95,85.39 430.30,85.83 430.65,85.57 431.00,85.16 431.35,82.74 431.70,80.88 432.05,83.29 432.40,85.00 432.75,85.81 433.10,86.16 433.45,85.48 433.80,82.56 434.15,78.30 434.50,81.15 434.85,85.40 435.20,81.01 435.55,76.63 435.90,78.96 436.25,83.35 436.60,85.17 436.95,85.67 437.30,85.56 437.65,85.76 438.00,78.04 438.35,74.88 438.70,82.60 439.05,85.30 439.40,85.24 439.75,85.05 440.10,84.05 440.45,79.90 440.80,75.75 441.15,75.60 441.50,79.75 441.85,83.90 442.20,85.58 442.55,85.17 442.90,85.70 443.25,85.07 443.60,85.12 443.95,81.40 444.30,81.76 444.65,85.78 445.00,86.14 445.35,85.05 445.70,85.97 446.05,85.57 446.40,82.77 446.75,79.21 447.10,79.55 447.45,83.10 447.80,85.72 448.15,86.09 448.50,85.04 448.85,85.01 449.20,82.82 449.55,80.04 449.90,81.93 450.25,84.70 450.60,85.13 450.95,85.12 451.30,85.21 451.65,86.24 452.00,83.40 452.35,77.71 452.70,79.18 453.05,84.87 453.40,86.23 453.75,86.11 454.10,85.32 454.45,83.33 454.80,80.20 455.15,82.14 455.50,85.27 455.85,85.31 456.20,86.16 456.55,85.88 456.90,85.97 457.25,83.31 457.60,79.45 457.95,81.61 458.30,85.47 458.65,86.11 459.00,83.04 459.35,78.16 459.70,77.92 460.05,82.80 460.40,86.25 460.75,85.09 461.10,86.01 461.45,85.09 461.80,83.48 462.15,79.95 462.50,78.78 462.85,82.31 463.20,85.84 463.55,85.09 463.90,80.85 464.25,76.09 464.60,77.87 464.95,82.63 465.30,85.23 465.65,85.68 466.00,85.48 466.35,85.85 466.70,82.77 467.05,81.51 467.40,84.59 467.75,85.58 468.10,86.00 468.45,83.99 468.80,81.98 469.15,81.23 469.50,83.25 469.85,85.26 470.20,85.21" fill="none" stroke="#7c7c7c" stroke-width="0.7"/>
<line x1="353.00" y1="63.80" x2="353.00" y2="86.60" stroke="#111" stroke-width="2.0"/>
<line x1="364.00" y1="44.80" x2="364.00" y2="86.60" stroke="#111" stroke-width="2.0"/>
<line x1="86.25" y1="328.00" x2="86.25" y2="342.00" stroke="#989898" stroke-width="0.9"/>
<line x1="93.75" y1="330.00" x2="93.75" y2="342.00" stroke="#8a8a8a" stroke-width="0.9"/>
<line x1="96.25" y1="328.75" x2="96.25" y2="342.00" stroke="#989898" stroke-width="0.9"/>
<line x1="97.50" y1="330.00" x2="97.50" y2="342.00" stroke="#a6a6a6" stroke-width="0.9"/>
<line x1="102.00" y1="318.75" x2="102.00" y2="342.00" stroke="#7c7c7c" stroke-width="0.9"/>
<line x1="104.25" y1="331.00" x2="104.25" y2="342.00" stroke="#989898" stroke-width="0.9"/>
<line x1="106.25" y1="330.00" x2="106.25" y2="342.00" stroke="#a6a6a6" stroke-width="0.9"/>
<line x1="107.50" y1="332.50" x2="107.50" y2="342.00" stroke="#a6a6a6" stroke-width="0.9"/>
<line x1="111.75" y1="331.00" x2="111.75" y2="342.00" stroke="#7c7c7c" stroke-width="0.9"/>
<line x1="113.25" y1="322.50" x2="113.25" y2="342.00" stroke="#8a8a8a" stroke-width="0.9"/>
<line x1="115.00" y1="313.75" x2="115.00" y2="342.00" stroke="#7c7c7c" stroke-width="0.9"/>
<line x1="117.50" y1="312.00" x2="117.50" y2="342.00" stroke="#8a8a8a" stroke-width="0.9"/>
<line x1="119.25" y1="316.25" x2="119.25" y2="342.00" stroke="#a6a6a6" stroke-width="0.9"/>
<line x1="121.25" y1="332.50" x2="121.25" y2="342.00" stroke="#989898" stroke-width="0.9"/>
<line x1="123.75" y1="308.00" x2="123.75" y2="342.00" stroke="#7c7c7c" stroke-width="0.9"/>
<line x1="125.00" y1="320.00" x2="125.00" y2="342.00" stroke="#989898" stroke-width="0.9"/>
<line x1="131.25" y1="335.00" x2="131.25" y2="342.00" stroke="#8a8a8a" stroke-width="0.9"/>
<line x1="133.75" y1="328.75" x2="133.75" y2="342.00" stroke="#989898" stroke-width="0.9"/>
<line x1="136.25" y1="317.00" x2="136.25" y2="342.00" stroke="#a6a6a6" stroke-width="0.9"/>
<line x1="138.00" y1="320.00" x2="138.00" y2="342.00" stroke="#989898" stroke-width="0.9"/>
<line x1="140.00" y1="325.00" x2="140.00" y2="342.00" stroke="#8a8a8a" stroke-width="0.9"/>
<line x1="141.75" y1="333.75" x2="141.75" y2="342.00" stroke="#8a8a8a" stroke-width="0.9"/>
<line x1="152.50" y1="333.75" x2="152.50" y2="342.00" stroke="#7c7c7c" stroke-width="0.9"/>
<line x1="155.00" y1="333.75" x2="155.00" y2="342.00" stroke="#a6a6a6" stroke-width="0.9"/>
<line x1="160.00" y1="323.75" x2="160.00" y2="342.00" stroke="#989898" stroke-width="0.9"/>
<line x1="161.25" y1="322.50" x2="161.25" y2="342.00" stroke="#a6a6a6" stroke-width="0.9"/>
<line x1="166.25" y1="333.75" x2="166.25" y2="342.00" stroke="#8a8a8a" stroke-width="0.9"/>
<line x1="169.50" y1="327.50" x2="169.50" y2="342.00" stroke="#7c7c7c" stroke-width="0.9"/>
<line x1="173.75" y1="332.50" x2="173.75" y2="342.00" stroke="#989898" stroke-width="0.9"/>
<line x1="176.25" y1="308.75" x2="176.25" y2="342.00" stroke="#8a8a8a" stroke-width="0.9"/>
<line x1="178.00" y1="301.25" x2="178.00" y2="342.00" stroke="#7c7c7c" stroke-width="0.9"/>
<line x1="181.25" y1="327.50" x2="181.25" y2="342.00" stroke="#a6a6a6" stroke-width="0.9"/>
<line x1="185.00" y1="333.75" x2="185.00" y2="342.00" stroke="#989898" stroke-width="0.9"/>
<line x1="187.50" y1="332.50" x2="187.50" y2="342.00" stroke="#8a8a8a" stroke-width="0.9"/>
<line x1="189.25" y1="299.50" x2="189.25" y2="342.00" stroke="#a6a6a6" stroke-width="0.9"/>
<line x1="188.75" y1="321.00" x2="188.75" y2="342.00" stroke="#7c7c7c" stroke-width="0.9"/>
<line x1="193.75" y1="331.25" x2="193.75" y2="342.00" stroke="#989898" stroke-width="0.9"/>
<line x1="196.25" y1="327.00" x2="196.25" y2="342.00" stroke="#8a8a8a" stroke-width="0.9"/>
<line x1="201.25" y1="320.00" x2="201.25" y2="342.00" stroke="#989898" stroke-width="0.9"/>
<line x1="205.00" y1="332.50" x2="205.00" y2="342.00" stroke="#a6a6a6" stroke-width="0.9"/>
<line x1="205.50" y1="332.50" x2="205.50" y2="342.00" stroke="#7c7c7c" stroke-width="0.9"/>
<line x1="210.00" y1="328.75" x2="210.00" y2="342.00" stroke="#b09090" stroke-width="0.9"/>
<line x1="213.75" y1="317.50" x2="213.75" y2="342.00" stroke="#c0a0a0" stroke-width="0.9"/>
<line x1="215.50" y1="320.00" x2="215.50" y2="342.00" stroke="#b09090" stroke-width="0.9"/>
<line x1="218.00" y1="332.50" x2="218.00" y2="342.00" stroke="#8a8a8a" stroke-width="0.9"/>
<line x1="220.75" y1="322.50" x2="220.75" y2="342.00" stroke="#8a8a8a" stroke-width="0.9"/>
<line x1="223.75" y1="333.75" x2="223.75" y2="342.00" stroke="#8a8a8a" stroke-width="0.9"/>
<line x1="227.00" y1="307.50" x2="227.00" y2="342.00" stroke="#8a8a8a" stroke-width="0.9"/>
<line x1="228.00" y1="317.50" x2="228.00" y2="342.00" stroke="#7c7c7c" stroke-width="0.9"/>
<line x1="231.75" y1="326.25" x2="231.75" y2="342.00" stroke="#7c7c7c" stroke-width="0.9"/>
<line x1="242.50" y1="329.50" x2="242.50" y2="342.00" stroke="#a6a6a6" stroke-width="0.9"/>
<line x1="243.75" y1="335.00" x2="243.75" y2="342.00" stroke="#989898" stroke-width="0.9"/>
<line x1="246.25" y1="331.25" x2="246.25" y2="342.00" stroke="#8a8a8a" stroke-width="0.9"/>
<line x1="250.75" y1="299.50" x2="250.75" y2="342.00" stroke="#8a8a8a" stroke-width="0.9"/>
<line x1="253.25" y1="304.25" x2="253.25" y2="342.00" stroke="#8a8a8a" stroke-width="0.9"/>
<line x1="255.50" y1="317.50" x2="255.50" y2="342.00" stroke="#8a8a8a" stroke-width="0.9"/>
<line x1="256.25" y1="327.50" x2="256.25" y2="342.00" stroke="#989898" stroke-width="0.9"/>
<line x1="260.00" y1="330.75" x2="260.00" y2="342.00" stroke="#8a8a8a" stroke-width="0.9"/>
<line x1="262.00" y1="333.75" x2="262.00" y2="342.00" stroke="#7c7c7c" stroke-width="0.9"/>
<line x1="265.50" y1="334.50" x2="265.50" y2="342.00" stroke="#7c7c7c" stroke-width="0.9"/>
<line x1="268.00" y1="333.75" x2="268.00" y2="342.00" stroke="#a6a6a6" stroke-width="0.9"/>
<line x1="270.00" y1="332.50" x2="270.00" y2="342.00" stroke="#7c7c7c" stroke-width="0.9"/>
<line x1="278.25" y1="317.00" x2="278.25" y2="342.00" stroke="#989898" stroke-width="0.9"/>
<line x1="279.50" y1="323.75" x2="279.50" y2="342.00" stroke="#989898" stroke-width="0.9"/>
<line x1="282.00" y1="333.75" x2="282.00" y2="342.00" stroke="#989898" stroke-width="0.9"/>
<line x1="283.75" y1="311.25" x2="283.75" y2="342.00" stroke="#a6a6a6" stroke-width="0.9"/>
<line x1="285.50" y1="325.50" x2="285.50" y2="342.00" stroke="#7c7c7c" stroke-width="0.9"/>
<line x1="288.75" y1="330.00" x2="288.75" y2="342.00" stroke="#7c7c7c" stroke-width="0.9"/>
<line x1="292.00" y1="321.25" x2="292.00" y2="342.00" stroke="#a6a6a6" stroke-width="0.9"/>
<line x1="295.00" y1="331.75" x2="295.00" y2="342.00" stroke="#a6a6a6" stroke-width="0.9"/>
<line x1="300.00" y1="324.50" x2="300.00" y2="342.00" stroke="#8a8a8a" stroke-width="0.9"/>
<line x1="302.50" y1="327.50" x2="302.50" y2="342.00" stroke="#989898" stroke-width="0.9"/>
<line x1="304.50" y1="331.25" x2="304.50" y2="342.00" stroke="#8a8a8a" stroke-width="0.9"/>
<line x1="307.00" y1="329.50" x2="307.00" y2="342.00" stroke="#8a8a8a" stroke-width="0.9"/>
<line x1="310.00" y1="333.00" x2="310.00" y2="342.00" stroke="#989898" stroke-width="0.9"/>
<line x1="315.00" y1="326.25" x2="315.00" y2="342.00" stroke="#7c7c7c" stroke-width="0.9"/>
<line x1="316.25" y1="327.50" x2="316.25" y2="342.00" stroke="#8a8a8a" stroke-width="0.9"/>
<line x1="321.25" y1="332.00" x2="321.25" y2="342.00" stroke="#989898" stroke-width="0.9"/>
<line x1="325.00" y1="323.75" x2="325.00" y2="342.00" stroke="#7c7c7c" stroke-width="0.9"/>
<line x1="328.00" y1="332.50" x2="328.00" y2="342.00" stroke="#989898" stroke-width="0.9"/>
<line x1="321.25" y1="332.50" x2="321.25" y2="342.00" stroke="#a6a6a6" stroke-width="0.9"/>
<line x1="323.00" y1="336.00" x2="323.00" y2="342.00" stroke="#7c7c7c" stroke-width="0.9"/>
<line x1="325.50" y1="323.75" x2="325.50" y2="342.00" stroke="#7c7c7c" stroke-width="0.9"/>
<line x1="330.50" y1="321.25" x2="330.50" y2="342.00" stroke="#989898" stroke-width="0.9"/>
<line x1="334.50" y1="331.25" x2="334.50" y2="342.00" stroke="#8a8a8a" stroke-width="0.9"/>
<line x1="335.75" y1="333.00" x2="335.75" y2="342.00" stroke="#989898" stroke-width="0.9"/>
<line x1="337.50" y1="337.50" x2="337.50" y2="342.00" stroke="#a6a6a6" stroke-width="0.9"/>
<line x1="340.00" y1="331.25" x2="340.00" y2="342.00" stroke="#7c7c7c" stroke-width="0.9"/>
<line x1="342.50" y1="330.00" x2="342.50" y2="342.00" stroke="#989898" stroke-width="0.9"/>
<line x1="343.75" y1="333.00" x2="343.75" y2="342.00" stroke="#7c7c7c" stroke-width="0.9"/>
<line x1="346.25" y1="328.75" x2="346.25" y2="342.00" stroke="#a6a6a6" stroke-width="0.9"/>
<line x1="347.50" y1="327.50" x2="347.50" y2="342.00" stroke="#a6a6a6" stroke-width="0.9"/>
<line x1="350.00" y1="330.00" x2="350.00" y2="342.00" stroke="#7c7c7c" stroke-width="0.9"/>
<line x1="356.25" y1="338.00" x2="356.25" y2="342.00" stroke="#8a8a8a" stroke-width="0.9"/>
<line x1="358.75" y1="332.50" x2="358.75" y2="342.00" stroke="#7c7c7c" stroke-width="0.9"/>
<line x1="361.25" y1="332.50" x2="361.25" y2="342.00" stroke="#8a8a8a" stroke-width="0.9"/>
<line x1="364.50" y1="336.25" x2="364.50" y2="342.00" stroke="#7c7c7c" stroke-width="0.9"/>
<line x1="371.25" y1="337.00" x2="371.25" y2="342.00" stroke="#8a8a8a" stroke-width="0.9"/>
<line x1="375.50" y1="332.50" x2="375.50" y2="342.00" stroke="#8a8a8a" stroke-width="0.9"/>
<line x1="377.00" y1="303.75" x2="377.00" y2="342.00" stroke="#8a8a8a" stroke-width="0.9"/>
<line x1="380.00" y1="325.00" x2="380.00" y2="342.00" stroke="#7c7c7c" stroke-width="0.9"/>
<line x1="381.25" y1="328.75" x2="381.25" y2="342.00" stroke="#989898" stroke-width="0.9"/>
<line x1="383.75" y1="333.00" x2="383.75" y2="342.00" stroke="#989898" stroke-width="0.9"/>
<line x1="387.50" y1="332.50" x2="387.50" y2="342.00" stroke="#7c7c7c" stroke-width="0.9"/>
<line x1="397.50" y1="331.75" x2="397.50" y2="342.00" stroke="#7c7c7c" stroke-width="0.9"/>
<line x1="401.25" y1="312.00" x2="401.25" y2="342.00" stroke="#7c7c7c" stroke-width="0.9"/>
<line x1="405.00" y1="330.00" x2="405.00" y2="342.00" stroke="#8a8a8a" stroke-width="0.9"/>
<line x1="408.75" y1="333.75" x2="408.75" y2="342.00" stroke="#989898" stroke-width="0.9"/>
<line x1="412.50" y1="315.50" x2="412.50" y2="342.00" stroke="#7c7c7c" stroke-width="0.9"/>
<line x1="415.00" y1="327.00" x2="415.00" y2="342.00" stroke="#a6a6a6" stroke-width="0.9"/>
<line x1="417.50" y1="331.25" x2="417.50" y2="342.00" stroke="#8a8a8a" stroke-width="0.9"/>
<line x1="420.00" y1="328.75" x2="420.00" y2="342.00" stroke="#a6a6a6" stroke-width="0.9"/>
<line x1="420.60" y1="329.60" x2="420.60" y2="342.00" stroke="#7c7c7c" stroke-width="0.9"/>
<line x1="425.00" y1="333.00" x2="425.00" y2="342.00" stroke="#989898" stroke-width="0.9"/>
<line x1="425.40" y1="333.50" x2="425.40" y2="342.00" stroke="#7c7c7c" stroke-width="0.9"/>
<line x1="429.50" y1="337.00" x2="429.50" y2="342.00" stroke="#8a8a8a" stroke-width="0.9"/>
<line x1="432.50" y1="337.50" x2="432.50" y2="342.00" stroke="#7c7c7c" stroke-width="0.9"/>
<line x1="434.50" y1="337.50" x2="434.50" y2="342.00" stroke="#989898" stroke-width="0.9"/>
<line x1="443.75" y1="325.00" x2="443.75" y2="342.00" stroke="#7c7c7c" stroke-width="0.9"/>
<line x1="445.00" y1="324.80" x2="445.00" y2="342.00" stroke="#a6a6a6" stroke-width="0.9"/>
<line x1="445.50" y1="327.50" x2="445.50" y2="342.00" stroke="#a6a6a6" stroke-width="0.9"/>
<line x1="447.90" y1="335.40" x2="447.90" y2="342.00" stroke="#989898" stroke-width="0.9"/>
<line x1="448.75" y1="330.00" x2="448.75" y2="342.00" stroke="#7c7c7c" stroke-width="0.9"/>
<line x1="450.20" y1="327.70" x2="450.20" y2="342.00" stroke="#7c7c7c" stroke-width="0.9"/>
<line x1="452.70" y1="336.30" x2="452.70" y2="342.00" stroke="#7c7c7c" stroke-width="0.9"/>
<line x1="458.80" y1="323.80" x2="458.80" y2="342.00" stroke="#a6a6a6" stroke-width="0.9"/>
<line x1="463.30" y1="335.40" x2="463.30" y2="342.00" stroke="#8a8a8a" stroke-width="0.9"/>
<line x1="465.60" y1="330.60" x2="465.60" y2="342.00" stroke="#8a8a8a" stroke-width="0.9"/>
<line x1="468.50" y1="334.40" x2="468.50" y2="342.00" stroke="#8a8a8a" stroke-width="0.9"/>
<line x1="473.80" y1="318.00" x2="473.80" y2="342.00" stroke="#c0a0a0" stroke-width="0.9"/>
<line x1="476.70" y1="313.30" x2="476.70" y2="342.00" stroke="#c0a0a0" stroke-width="0.9"/>
<line x1="477.70" y1="325.80" x2="477.70" y2="342.00" stroke="#b09090" stroke-width="0.9"/>
<line x1="474.80" y1="322.00" x2="474.80" y2="342.00" stroke="#c0a0a0" stroke-width="0.9"/>
<line x1="475.30" y1="320.00" x2="475.30" y2="342.00" stroke="#c0a0a0" stroke-width="0.9"/>
<line x1="478.50" y1="330.00" x2="478.50" y2="342.00" stroke="#c0a0a0" stroke-width="0.9"/>
<line x1="484.40" y1="325.80" x2="484.40" y2="342.00" stroke="#7c7c7c" stroke-width="0.9"/>
<line x1="488.30" y1="335.40" x2="488.30" y2="342.00" stroke="#a6a6a6" stroke-width="0.9"/>
<line x1="491.20" y1="325.80" x2="491.20" y2="342.00" stroke="#7c7c7c" stroke-width="0.9"/>
<line x1="496.90" y1="337.30" x2="496.90" y2="342.00" stroke="#989898" stroke-width="0.9"/>
<line x1="499.80" y1="331.50" x2="499.80" y2="342.00" stroke="#989898" stroke-width="0.9"/>
<line x1="501.70" y1="329.60" x2="501.70" y2="342.00" stroke="#a6a6a6" stroke-width="0.9"/>
<line x1="504.60" y1="332.50" x2="504.60" y2="342.00" stroke="#8a8a8a" stroke-width="0.9"/>
<line x1="508.00" y1="332.50" x2="508.00" y2="342.00" stroke="#989898" stroke-width="0.9"/>
<line x1="89.70" y1="339.00" x2="89.70" y2="342.00" stroke="#b8b8b8" stroke-width="0.8"/>
<line x1="92.20" y1="337.00" x2="92.20" y2="342.00" stroke="#b8b8b8" stroke-width="0.8"/>
<line x1="93.40" y1="336.00" x2="93.40" y2="342.00" stroke="#b8b8b8" stroke-width="0.8"/>
<line x1="95.20" y1="337.00" x2="95.20" y2="342.00" stroke="#b8b8b8" stroke-width="0.8"/>
<line x1="98.20" y1="337.00" x2="98.20" y2="342.00" stroke="#b8b8b8" stroke-width="0.8"/>
<line x1="105.80" y1="334.00" x2="105.80" y2="342.00" stroke="#b8b8b8" stroke-width="0.8"/>
<line x1="114.50" y1="340.00" x2="114.50" y2="342.00" stroke="#b8b8b8" stroke-width="0.8"/>
<line x1="117.70" y1="340.00" x2="117.70" y2="342.00" stroke="#b8b8b8" stroke-width="0.8"/>
<line x1="120.20" y1="338.00" x2="120.20" y2="342.00" stroke="#b8b8b8" stroke-width="0.8"/>
<line x1="122.00" y1="336.00" x2="122.00" y2="342.00" stroke="#b8b8b8" stroke-width="0.8"/>
<line x1="124.50" y1="336.00" x2="124.50" y2="342.00" stroke="#b8b8b8" stroke-width="0.8"/>
<line x1="126.30" y1="336.00" x2="126.30" y2="342.00" stroke="#b8b8b8" stroke-width="0.8"/>
<line x1="133.80" y1="340.00" x2="133.80" y2="342.00" stroke="#b8b8b8" stroke-width="0.8"/>
<line x1="149.30" y1="339.00" x2="149.30" y2="342.00" stroke="#b8b8b8" stroke-width="0.8"/>
<line x1="157.50" y1="338.00" x2="157.50" y2="342.00" stroke="#b8b8b8" stroke-width="0.8"/>
<line x1="161.10" y1="338.00" x2="161.10" y2="342.00" stroke="#b8b8b8" stroke-width="0.8"/>
<line x1="164.30" y1="339.00" x2="164.30" y2="342.00" stroke="#b8b8b8" stroke-width="0.8"/>
<line x1="166.80" y1="340.00" x2="166.80" y2="342.00" stroke="#b8b8b8" stroke-width="0.8"/>
<line x1="171.10" y1="340.00" x2="171.10" y2="342.00" stroke="#b8b8b8" stroke-width="0.8"/>
<line x1="179.80" y1="334.00" x2="179.80" y2="342.00" stroke="#b8b8b8" stroke-width="0.8"/>
<line x1="182.30" y1="339.00" x2="182.30" y2="342.00" stroke="#b8b8b8" stroke-width="0.8"/>
<line x1="189.20" y1="334.00" x2="189.20" y2="342.00" stroke="#b8b8b8" stroke-width="0.8"/>
<line x1="191.00" y1="340.00" x2="191.00" y2="342.00" stroke="#b8b8b8" stroke-width="0.8"/>
<line x1="192.20" y1="336.00" x2="192.20" y2="342.00" stroke="#b8b8b8" stroke-width="0.8"/>
<line x1="195.20" y1="338.00" x2="195.20" y2="342.00" stroke="#b8b8b8" stroke-width="0.8"/>
<line x1="196.40" y1="337.00" x2="196.40" y2="342.00" stroke="#b8b8b8" stroke-width="0.8"/>
<line x1="199.60" y1="338.00" x2="199.60" y2="342.00" stroke="#b8b8b8" stroke-width="0.8"/>
<line x1="202.10" y1="336.00" x2="202.10" y2="342.00" stroke="#b8b8b8" stroke-width="0.8"/>
<line x1="209.70" y1="338.00" x2="209.70" y2="342.00" stroke="#b8b8b8" stroke-width="0.8"/>
<line x1="213.30" y1="337.00" x2="213.30" y2="342.00" stroke="#b8b8b8" stroke-width="0.8"/>
<line x1="215.10" y1="338.00" x2="215.10" y2="342.00" stroke="#b8b8b8" stroke-width="0.8"/>
<line x1="222.40" y1="338.00" x2="222.40" y2="342.00" stroke="#b8b8b8" stroke-width="0.8"/>
<line x1="225.60" y1="336.00" x2="225.60" y2="342.00" stroke="#b8b8b8" stroke-width="0.8"/>
<line x1="234.50" y1="338.00" x2="234.50" y2="342.00" stroke="#b8b8b8" stroke-width="0.8"/>
<line x1="241.20" y1="338.00" x2="241.20" y2="342.00" stroke="#b8b8b8" stroke-width="0.8"/>
<line x1="256.30" y1="338.00" x2="256.30" y2="342.00" stroke="#b8b8b8" stroke-width="0.8"/>
<line x1="274.30" y1="340.00" x2="274.30" y2="342.00" stroke="#b8b8b8" stroke-width="0.8"/>
<line x1="275.50" y1="334.00" x2="275.50" y2="342.00" stroke="#b8b8b8" stroke-width="0.8"/>
<line x1="287.80" y1="336.00" x2="287.80" y2="342.00" stroke="#b8b8b8" stroke-width="0.8"/>
<line x1="297.10" y1="336.00" x2="297.10" y2="342.00" stroke="#b8b8b8" stroke-width="0.8"/>
<line x1="298.30" y1="340.00" x2="298.30" y2="342.00" stroke="#b8b8b8" stroke-width="0.8"/>
<line x1="310.20" y1="339.00" x2="310.20" y2="342.00" stroke="#b8b8b8" stroke-width="0.8"/>
<line x1="312.70" y1="340.00" x2="312.70" y2="342.00" stroke="#b8b8b8" stroke-width="0.8"/>
<line x1="316.40" y1="337.00" x2="316.40" y2="342.00" stroke="#b8b8b8" stroke-width="0.8"/>
<line x1="319.60" y1="339.00" x2="319.60" y2="342.00" stroke="#b8b8b8" stroke-width="0.8"/>
<line x1="324.00" y1="336.00" x2="324.00" y2="342.00" stroke="#b8b8b8" stroke-width="0.8"/>
<line x1="325.80" y1="340.00" x2="325.80" y2="342.00" stroke="#b8b8b8" stroke-width="0.8"/>
<line x1="329.40" y1="337.00" x2="329.40" y2="342.00" stroke="#b8b8b8" stroke-width="0.8"/>
<line x1="331.90" y1="338.00" x2="331.90" y2="342.00" stroke="#b8b8b8" stroke-width="0.8"/>
<line x1="336.30" y1="337.00" x2="336.30" y2="342.00" stroke="#b8b8b8" stroke-width="0.8"/>
<line x1="338.10" y1="337.00" x2="338.10" y2="342.00" stroke="#b8b8b8" stroke-width="0.8"/>
<line x1="341.30" y1="339.00" x2="341.30" y2="342.00" stroke="#b8b8b8" stroke-width="0.8"/>
<line x1="342.50" y1="338.00" x2="342.50" y2="342.00" stroke="#b8b8b8" stroke-width="0.8"/>
<line x1="345.70" y1="338.00" x2="345.70" y2="342.00" stroke="#b8b8b8" stroke-width="0.8"/>
<line x1="350.10" y1="337.00" x2="350.10" y2="342.00" stroke="#b8b8b8" stroke-width="0.8"/>
<line x1="352.60" y1="340.00" x2="352.60" y2="342.00" stroke="#b8b8b8" stroke-width="0.8"/>
<line x1="353.80" y1="338.00" x2="353.80" y2="342.00" stroke="#b8b8b8" stroke-width="0.8"/>
<line x1="355.60" y1="337.00" x2="355.60" y2="342.00" stroke="#b8b8b8" stroke-width="0.8"/>
<line x1="358.10" y1="337.00" x2="358.10" y2="342.00" stroke="#b8b8b8" stroke-width="0.8"/>
<line x1="359.30" y1="340.00" x2="359.30" y2="342.00" stroke="#b8b8b8" stroke-width="0.8"/>
<line x1="364.80" y1="336.00" x2="364.80" y2="342.00" stroke="#b8b8b8" stroke-width="0.8"/>
<line x1="371.60" y1="338.00" x2="371.60" y2="342.00" stroke="#b8b8b8" stroke-width="0.8"/>
<line x1="378.40" y1="337.00" x2="378.40" y2="342.00" stroke="#b8b8b8" stroke-width="0.8"/>
<line x1="380.20" y1="337.00" x2="380.20" y2="342.00" stroke="#b8b8b8" stroke-width="0.8"/>
<line x1="395.20" y1="340.00" x2="395.20" y2="342.00" stroke="#b8b8b8" stroke-width="0.8"/>
<line x1="402.10" y1="334.00" x2="402.10" y2="342.00" stroke="#b8b8b8" stroke-width="0.8"/>
<line x1="403.90" y1="337.00" x2="403.90" y2="342.00" stroke="#b8b8b8" stroke-width="0.8"/>
<line x1="406.90" y1="334.00" x2="406.90" y2="342.00" stroke="#b8b8b8" stroke-width="0.8"/>
<line x1="408.10" y1="338.00" x2="408.10" y2="342.00" stroke="#b8b8b8" stroke-width="0.8"/>
<line x1="410.60" y1="334.00" x2="410.60" y2="342.00" stroke="#b8b8b8" stroke-width="0.8"/>
<line x1="413.10" y1="338.00" x2="413.10" y2="342.00" stroke="#b8b8b8" stroke-width="0.8"/>
<line x1="418.10" y1="337.00" x2="418.10" y2="342.00" stroke="#b8b8b8" stroke-width="0.8"/>
<line x1="424.90" y1="334.00" x2="424.90" y2="342.00" stroke="#b8b8b8" stroke-width="0.8"/>
<line x1="431.80" y1="337.00" x2="431.80" y2="342.00" stroke="#b8b8b8" stroke-width="0.8"/>
<line x1="435.50" y1="340.00" x2="435.50" y2="342.00" stroke="#b8b8b8" stroke-width="0.8"/>
<line x1="441.00" y1="336.00" x2="441.00" y2="342.00" stroke="#b8b8b8" stroke-width="0.8"/>
<line x1="442.80" y1="338.00" x2="442.80" y2="342.00" stroke="#b8b8b8" stroke-width="0.8"/>
<line x1="444.60" y1="340.00" x2="444.60" y2="342.00" stroke="#b8b8b8" stroke-width="0.8"/>
<line x1="461.80" y1="338.00" x2="461.80" y2="342.00" stroke="#b8b8b8" stroke-width="0.8"/>
<line x1="467.30" y1="334.00" x2="467.30" y2="342.00" stroke="#b8b8b8" stroke-width="0.8"/>
<line x1="472.30" y1="340.00" x2="472.30" y2="342.00" stroke="#b8b8b8" stroke-width="0.8"/>
<line x1="478.00" y1="338.00" x2="478.00" y2="342.00" stroke="#b8b8b8" stroke-width="0.8"/>
<line x1="483.00" y1="336.00" x2="483.00" y2="342.00" stroke="#b8b8b8" stroke-width="0.8"/>
<line x1="486.60" y1="334.00" x2="486.60" y2="342.00" stroke="#b8b8b8" stroke-width="0.8"/>
<line x1="489.10" y1="339.00" x2="489.10" y2="342.00" stroke="#b8b8b8" stroke-width="0.8"/>
<line x1="494.50" y1="337.00" x2="494.50" y2="342.00" stroke="#b8b8b8" stroke-width="0.8"/>
<line x1="495.70" y1="338.00" x2="495.70" y2="342.00" stroke="#b8b8b8" stroke-width="0.8"/>
<line x1="497.50" y1="334.00" x2="497.50" y2="342.00" stroke="#b8b8b8" stroke-width="0.8"/>
<line x1="506.90" y1="334.00" x2="506.90" y2="342.00" stroke="#b8b8b8" stroke-width="0.8"/>
<line x1="115.60" y1="237.30" x2="115.60" y2="342.00" stroke="#b4b0cc" stroke-width="1.0"/>
<line x1="151.00" y1="262.00" x2="151.00" y2="342.00" stroke="#b4b0cc" stroke-width="1.0"/>
<line x1="178.70" y1="242.00" x2="178.70" y2="342.00" stroke="#b4b0cc" stroke-width="1.0"/>
<line x1="212.80" y1="268.00" x2="212.80" y2="342.00" stroke="#d8acbc" stroke-width="1.0"/>
<line x1="236.50" y1="254.00" x2="236.50" y2="342.00" stroke="#b4b0cc" stroke-width="1.0"/>
<line x1="348.30" y1="256.70" x2="348.30" y2="342.00" stroke="#b4b0cc" stroke-width="1.0"/>
<line x1="377.50" y1="226.80" x2="377.50" y2="342.00" stroke="#b4b0cc" stroke-width="1.0"/>
<line x1="394.00" y1="247.60" x2="394.00" y2="342.00" stroke="#b4b0cc" stroke-width="1.0"/>
<line x1="476.10" y1="262.20" x2="476.10" y2="342.00" stroke="#d8acbc" stroke-width="1.0"/>
<line x1="507.20" y1="240.30" x2="507.20" y2="342.00" stroke="#d8acbc" stroke-width="1.0"/>
<rect x="326.3" y="5.8" width="160" height="99.2" fill="none" stroke="#3a3a3a" stroke-width="1.6"/>
<line x1="156.25" y1="58.00" x2="127.27" y2="75.18" stroke="#111" stroke-width="1.2"/>
<polygon points="121.25,78.75 125.64,72.43 128.90,77.93" fill="#111"/>
<line x1="344.00" y1="35.60" x2="355.83" y2="44.66" stroke="#111" stroke-width="1.3"/>
<polygon points="360.20,48.00 354.13,46.88 357.53,42.43" fill="#111"/>
<line x1="335.40" y1="58.60" x2="346.73" y2="67.83" stroke="#111" stroke-width="1.3"/>
<polygon points="351.00,71.30 344.97,70.00 348.50,65.66" fill="#111"/>
<line x1="104.60" y1="208.80" x2="231.80" y2="208.80" stroke="#151515" stroke-width="1.4"/>
<line x1="257.80" y1="425.20" x2="370.80" y2="425.20" stroke="#151515" stroke-width="1.1"/>
<line x1="145.20" y1="515.00" x2="161.60" y2="515.00" stroke="#202020" stroke-width="1.5"/>
<line x1="224.80" y1="515.00" x2="260.60" y2="515.00" stroke="#202020" stroke-width="1.5"/>
<line x1="286.60" y1="515.00" x2="322.00" y2="515.00" stroke="#202020" stroke-width="1.5"/>
</svg>
<div class="t" style="left:5.35px;top:-0.81px;font-size:11px;line-height:11px;font-family:'Liberation Sans', sans-serif;color:#222;transform:scaleX(1.0274);transform-origin:0 0;-webkit-text-stroke:0.2px #222;">100</div>
<div class="t" style="left:39.53px;top:3.62px;font-size:11.2px;line-height:11.2px;font-family:'Liberation Sans', sans-serif;color:#222;transform:scaleX(0.9713);transform-origin:0 0;-webkit-text-stroke:0.2px #222;">MS Full Scan</div>
<div class="t" style="left:15.28px;top:73.16px;font-size:11.5px;line-height:11.5px;font-family:'Liberation Sans', sans-serif;color:#222;transform:scaleX(1.0392);transform-origin:0 0;-webkit-text-stroke:0.2px #222;">%</div>
<div class="t" style="left:19.55px;top:154.06px;font-size:11.5px;line-height:11.5px;font-family:'Liberation Sans', sans-serif;color:#222;transform:scaleX(0.9783);transform-origin:0 0;-webkit-text-stroke:0.2px #222;">0</div>
<div class="t" style="left:136.96px;top:39.71px;font-size:11.8px;line-height:11.8px;font-family:'Liberation Sans', sans-serif;color:#222;transform:scaleX(0.9838);transform-origin:0 0;-webkit-text-stroke:0.2px #222;">ICAT pair</div>
<div class="t" style="left:53.29px;top:158.19px;font-size:11px;line-height:11px;font-family:'Liberation Sans', sans-serif;color:#222;transform:scaleX(1.0562);transform-origin:0 0;-webkit-text-stroke:0.2px #222;">500</div>
<div class="t" style="left:113.20px;top:158.19px;font-size:11px;line-height:11px;font-family:'Liberation Sans', sans-serif;color:#222;transform:scaleX(1.0629);transform-origin:0 0;-webkit-text-stroke:0.2px #222;">700</div>
<div class="t" style="left:173.29px;top:158.19px;font-size:11px;line-height:11px;font-family:'Liberation Sans', sans-serif;color:#222;transform:scaleX(1.0595);transform-origin:0 0;-webkit-text-stroke:0.2px #222;">900</div>
<div class="t" style="left:229.51px;top:158.19px;font-size:11px;line-height:11px;font-family:'Liberation Sans', sans-serif;color:#222;transform:scaleX(1.1278);transform-origin:0 0;-webkit-text-stroke:0.2px #222;">1100</div>
<div class="t" style="left:289.57px;top:158.19px;font-size:11px;line-height:11px;font-family:'Liberation Sans', sans-serif;color:#222;transform:scaleX(1.0882);transform-origin:0 0;-webkit-text-stroke:0.2px #222;">1300</div>
<div class="t" style="left:349.60px;top:158.19px;font-size:11px;line-height:11px;font-family:'Liberation Sans', sans-serif;color:#222;transform:scaleX(1.0882);transform-origin:0 0;-webkit-text-stroke:0.2px #222;">1500</div>
<div class="t" style="left:409.63px;top:158.19px;font-size:11px;line-height:11px;font-family:'Liberation Sans', sans-serif;color:#222;transform:scaleX(1.0882);transform-origin:0 0;-webkit-text-stroke:0.2px #222;">1700</div>
<div class="t" style="left:469.66px;top:158.19px;font-size:11px;line-height:11px;font-family:'Liberation Sans', sans-serif;color:#222;transform:scaleX(1.0882);transform-origin:0 0;-webkit-text-stroke:0.2px #222;">1900</div>
<div class="t" style="left:262.89px;top:166.71px;font-size:10.5px;line-height:10.5px;font-family:'Liberation Sans', sans-serif;color:#222;transform:scaleX(1.1842);transform-origin:0 0;-webkit-text-stroke:0.2px #222;">m/z</div>
<div class="t" style="left:341.10px;top:9.36px;font-size:10.8px;line-height:10.8px;font-family:'Liberation Sans', sans-serif;color:#111;font-weight:bold;letter-spacing:0.740592261904761px;-webkit-text-stroke:0.35px #111;">Protein Quantification</div>
<div class="t" style="left:383.13px;top:28.92px;font-size:11.2px;line-height:11.2px;font-family:'Liberation Sans', sans-serif;color:#111;font-weight:bold;letter-spacing:0.6862142857142816px;-webkit-text-stroke:0.35px #111;">1.7 fold</div>
<div class="t" style="left:383.33px;top:41.61px;font-size:11.8px;line-height:11.8px;font-family:'Liberation Sans', sans-serif;color:#111;font-weight:bold;letter-spacing:0.05319791666666518px;-webkit-text-stroke:0.35px #111;">overexpressed</div>
<div class="t" style="left:333.72px;top:25.58px;font-size:9px;line-height:9px;font-family:'Liberation Sans', sans-serif;color:#222;transform:scaleX(1.0689);transform-origin:0 0;-webkit-text-stroke:0.2px #222;">679.2</div>
<div class="t" style="left:327.44px;top:48.78px;font-size:9px;line-height:9px;font-family:'Liberation Sans', sans-serif;color:#222;transform:scaleX(1.0112);transform-origin:0 0;-webkit-text-stroke:0.2px #222;">676.1</div>
<div class="t" style="left:330.94px;top:88.36px;font-size:9.5px;line-height:9.5px;font-family:'Liberation Sans', sans-serif;color:#222;transform:scaleX(0.9579);transform-origin:0 0;-webkit-text-stroke:0.2px #222;">670</div>
<div class="t" style="left:356.74px;top:88.36px;font-size:9.5px;line-height:9.5px;font-family:'Liberation Sans', sans-serif;color:#222;transform:scaleX(0.9579);transform-origin:0 0;-webkit-text-stroke:0.2px #222;">680</div>
<div class="t" style="left:382.54px;top:88.36px;font-size:9.5px;line-height:9.5px;font-family:'Liberation Sans', sans-serif;color:#222;transform:scaleX(0.9579);transform-origin:0 0;-webkit-text-stroke:0.2px #222;">690</div>
<div class="t" style="left:408.34px;top:88.36px;font-size:9.5px;line-height:9.5px;font-family:'Liberation Sans', sans-serif;color:#222;transform:scaleX(0.9579);transform-origin:0 0;-webkit-text-stroke:0.2px #222;">700</div>
<div class="t" style="left:434.14px;top:88.36px;font-size:9.5px;line-height:9.5px;font-family:'Liberation Sans', sans-serif;color:#222;transform:scaleX(0.9579);transform-origin:0 0;-webkit-text-stroke:0.2px #222;">710</div>
<div class="t" style="left:459.94px;top:88.36px;font-size:9.5px;line-height:9.5px;font-family:'Liberation Sans', sans-serif;color:#222;transform:scaleX(0.9579);transform-origin:0 0;-webkit-text-stroke:0.2px #222;">720</div>
<div class="t" style="left:396.75px;top:96.47px;font-size:7px;line-height:7px;font-family:'Liberation Sans', sans-serif;color:#222;transform:scaleX(1.2129);transform-origin:0 0;-webkit-text-stroke:0.2px #222;">m/z</div>
<div class="t" style="left:6.94px;top:178.19px;font-size:11px;line-height:11px;font-family:'Liberation Sans', sans-serif;color:#222;transform:scaleX(1.0391);transform-origin:0 0;-webkit-text-stroke:0.2px #222;">100</div>
<div class="t" style="left:37.06px;top:182.42px;font-size:11.2px;line-height:11.2px;font-family:'Liberation Sans', sans-serif;color:#222;transform:scaleX(1.0531);transform-origin:0 0;-webkit-text-stroke:0.2px #222;">MS/MS scan of 679.2 m/z</div>
<div class="t" style="left:37.50px;top:196.72px;font-size:11.2px;line-height:11.2px;font-family:'Liberation Sans', sans-serif;color:#222;transform:scaleX(0.9938);transform-origin:0 0;-webkit-text-stroke:0.2px #222;">Sequence: K.</div>
<div class="t" style="left:104.54px;top:196.72px;font-size:11.2px;line-height:11.2px;font-family:'Liberation Sans', sans-serif;color:#111;font-weight:bold;transform:scaleX(0.9199);transform-origin:0 0;-webkit-text-stroke:0.2px #111;">AYSFCGTVEYMAPEVVNR</div>
<div class="t" style="left:15.85px;top:257.26px;font-size:11.5px;line-height:11.5px;font-family:'Liberation Sans', sans-serif;color:#222;transform:scaleX(1.1241);transform-origin:0 0;-webkit-text-stroke:0.2px #222;">%</div>
<div class="t" style="left:18.87px;top:338.06px;font-size:11.5px;line-height:11.5px;font-family:'Liberation Sans', sans-serif;color:#222;transform:scaleX(1.1594);transform-origin:0 0;-webkit-text-stroke:0.2px #222;">0</div>
<div class="t" style="left:79.52px;top:346.99px;font-size:11px;line-height:11px;font-family:'Liberation Sans', sans-serif;color:#222;transform:scaleX(1.0431);transform-origin:0 0;-webkit-text-stroke:0.2px #222;">400</div>
<div class="t" style="left:136.37px;top:346.99px;font-size:11px;line-height:11px;font-family:'Liberation Sans', sans-serif;color:#222;transform:scaleX(1.0629);transform-origin:0 0;-webkit-text-stroke:0.2px #222;">600</div>
<div class="t" style="left:193.63px;top:346.99px;font-size:11px;line-height:11px;font-family:'Liberation Sans', sans-serif;color:#222;transform:scaleX(1.0595);transform-origin:0 0;-webkit-text-stroke:0.2px #222;">800</div>
<div class="t" style="left:247.64px;top:346.99px;font-size:11px;line-height:11px;font-family:'Liberation Sans', sans-serif;color:#222;transform:scaleX(1.0409);transform-origin:0 0;-webkit-text-stroke:0.2px #222;">1000</div>
<div class="t" style="left:304.84px;top:346.99px;font-size:11px;line-height:11px;font-family:'Liberation Sans', sans-serif;color:#222;transform:scaleX(1.0409);transform-origin:0 0;-webkit-text-stroke:0.2px #222;">1200</div>
<div class="t" style="left:362.04px;top:346.99px;font-size:11px;line-height:11px;font-family:'Liberation Sans', sans-serif;color:#222;transform:scaleX(1.0409);transform-origin:0 0;-webkit-text-stroke:0.2px #222;">1400</div>
<div class="t" style="left:419.24px;top:346.99px;font-size:11px;line-height:11px;font-family:'Liberation Sans', sans-serif;color:#222;transform:scaleX(1.0409);transform-origin:0 0;-webkit-text-stroke:0.2px #222;">1600</div>
<div class="t" style="left:476.44px;top:346.99px;font-size:11px;line-height:11px;font-family:'Liberation Sans', sans-serif;color:#222;transform:scaleX(1.0409);transform-origin:0 0;-webkit-text-stroke:0.2px #222;">1800</div>
<div class="t" style="left:277.28px;top:352.66px;font-size:10.8px;line-height:10.8px;font-family:'Liberation Sans', sans-serif;color:#222;transform:scaleX(1.1637);transform-origin:0 0;-webkit-text-stroke:0.2px #222;">m/z</div>
<div class="t" style="left:427.79px;top:192.03px;font-size:11.3px;line-height:11.3px;font-family:'Liberation Sans', sans-serif;color:#111;font-weight:bold;letter-spacing:0.728924005681818px;-webkit-text-stroke:0.35px #111;">Xcorr = 4.21</div>
<div class="t" style="left:427.25px;top:205.63px;font-size:11.3px;line-height:11.3px;font-family:'Liberation Sans', sans-serif;color:#111;font-weight:bold;letter-spacing:1.162103515625006px;-webkit-text-stroke:0.35px #111;">z = 3</div>
<div class="t" style="left:109.95px;top:215.57px;font-size:9.6px;line-height:9.6px;font-family:'Liberation Sans', sans-serif;color:#222;letter-spacing:-0.4959999999999969px;-webkit-text-stroke:0.2px #222;">y5</div>
<div class="t" style="left:103.01px;top:225.67px;font-size:9.6px;line-height:9.6px;font-family:'Liberation Sans', sans-serif;color:#222;letter-spacing:-0.37218750000000256px;-webkit-text-stroke:0.2px #222;">487.1</div>
<div class="t" style="left:147.25px;top:240.87px;font-size:9.6px;line-height:9.6px;font-family:'Liberation Sans', sans-serif;color:#222;letter-spacing:-0.4960000000000111px;-webkit-text-stroke:0.2px #222;">y6</div>
<div class="t" style="left:139.72px;top:251.17px;font-size:9.6px;line-height:9.6px;font-family:'Liberation Sans', sans-serif;color:#222;letter-spacing:-0.012187499999994245px;-webkit-text-stroke:0.2px #222;">616.3</div>
<div class="t" style="left:174.35px;top:220.87px;font-size:9.6px;line-height:9.6px;font-family:'Liberation Sans', sans-serif;color:#222;letter-spacing:-0.699999999999994px;-webkit-text-stroke:0.2px #222;">y7</div>
<div class="t" style="left:166.82px;top:230.07px;font-size:9.6px;line-height:9.6px;font-family:'Liberation Sans', sans-serif;color:#222;letter-spacing:-0.16218749999999993px;-webkit-text-stroke:0.2px #222;">713.5</div>
<div class="t" style="left:208.18px;top:247.87px;font-size:9.6px;line-height:9.6px;font-family:'Liberation Sans', sans-serif;color:#222;letter-spacing:-0.4592500000000115px;-webkit-text-stroke:0.2px #222;">b8</div>
<div class="t" style="left:201.37px;top:257.47px;font-size:9.6px;line-height:9.6px;font-family:'Liberation Sans', sans-serif;color:#222;letter-spacing:-0.19918750000000607px;-webkit-text-stroke:0.2px #222;">829.5</div>
<div class="t" style="left:231.95px;top:234.87px;font-size:9.6px;line-height:9.6px;font-family:'Liberation Sans', sans-serif;color:#222;letter-spacing:-2.0480000000000054px;-webkit-text-stroke:0.2px #222;">y9</div>
<div class="t" style="left:224.37px;top:244.57px;font-size:9.6px;line-height:9.6px;font-family:'Liberation Sans', sans-serif;color:#222;letter-spacing:-0.17418750000000038px;-webkit-text-stroke:0.2px #222;">915.6</div>
<div class="t" style="left:342.75px;top:235.07px;font-size:9.6px;line-height:9.6px;font-family:'Liberation Sans', sans-serif;color:#222;letter-spacing:-0.1696250000000168px;-webkit-text-stroke:0.2px #222;">y12</div>
<div class="t" style="left:335.88px;top:244.87px;font-size:9.6px;line-height:9.6px;font-family:'Liberation Sans', sans-serif;color:#222;letter-spacing:-0.2496000000000002px;-webkit-text-stroke:0.2px #222;">1306.6</div>
<div class="t" style="left:368.35px;top:205.87px;font-size:9.6px;line-height:9.6px;font-family:'Liberation Sans', sans-serif;color:#222;letter-spacing:-0.2176249999999884px;-webkit-text-stroke:0.2px #222;">y13</div>
<div class="t" style="left:361.48px;top:215.67px;font-size:9.6px;line-height:9.6px;font-family:'Liberation Sans', sans-serif;color:#222;letter-spacing:-0.2496000000000002px;-webkit-text-stroke:0.2px #222;">1407.6</div>
<div class="t" style="left:388.45px;top:227.07px;font-size:9.6px;line-height:9.6px;font-family:'Liberation Sans', sans-serif;color:#222;letter-spacing:-0.6656249999999941px;-webkit-text-stroke:0.2px #222;">y14</div>
<div class="t" style="left:380.48px;top:237.67px;font-size:9.6px;line-height:9.6px;font-family:'Liberation Sans', sans-serif;color:#222;letter-spacing:-0.1695999999999934px;-webkit-text-stroke:0.2px #222;">1464.5</div>
<div class="t" style="left:470.78px;top:241.07px;font-size:9.6px;line-height:9.6px;font-family:'Liberation Sans', sans-serif;color:#222;letter-spacing:-0.5492499999999829px;-webkit-text-stroke:0.2px #222;">b16</div>
<div class="t" style="left:463.38px;top:251.17px;font-size:9.6px;line-height:9.6px;font-family:'Liberation Sans', sans-serif;color:#222;letter-spacing:-0.08000000000000895px;-webkit-text-stroke:0.2px #222;">1747.9</div>
<div class="t" style="left:499.28px;top:219.87px;font-size:9.6px;line-height:9.6px;font-family:'Liberation Sans', sans-serif;color:#222;letter-spacing:-0.15124999999998856px;-webkit-text-stroke:0.2px #222;">b17</div>
<div class="t" style="left:491.18px;top:229.27px;font-size:9.6px;line-height:9.6px;font-family:'Liberation Sans', sans-serif;color:#222;letter-spacing:-0.12959999999999566px;-webkit-text-stroke:0.2px #222;">1861.8</div>
<div class="t" style="left:-94.40px;top:69.38px;width:200px;text-align:center;font-size:11.25px;line-height:11.25px;transform:rotate(-90deg) scaleY(1.1);color:#222;-webkit-text-stroke:0.1px #222">Relative Abundance</div>
<div class="t" style="left:-92.20px;top:253.38px;width:200px;text-align:center;font-size:11.25px;line-height:11.25px;transform:rotate(-90deg) scaleY(1.1);color:#222;-webkit-text-stroke:0.1px #222">Relative Abundance</div>
<div class="t" style="left:21.81px;top:373.36px;font-size:10.8px;line-height:10.8px;font-family:'Liberation Sans', sans-serif;color:#111;transform:scaleX(0.9795);transform-origin:0 0;-webkit-text-stroke:0.2px #111;"><b>PROTEIN:</b> gi# 4759050 - ribosomal protein S6 kinase</div>
<div class="t" style="left:21.53px;top:393.98px;font-size:9.0px;line-height:9.0px;font-family:'Liberation Sans', sans-serif;color:#111;transform:scaleX(0.9251);transform-origin:0 0;-webkit-text-stroke:0.15px #111;">MPLAQLADPWQKMAVESPSDSAENGQQIMDEPMGEEEINPQTEEVSIKEIAITHHVKEGHEKADPSQFELLKVLGQGSFGKVFLVKKIS</div>
<div class="t" style="left:21.79px;top:405.00px;font-size:9.0px;line-height:9.0px;font-family:'Liberation Sans', sans-serif;color:#111;transform:scaleX(0.9179);transform-origin:0 0;-webkit-text-stroke:0.15px #111;">GSDARQLYAM KVLKKATLKVRDRVRTKM ERDILVEVNHPFIVKLHYAFQTEGKLYLILDFLRGGDLFTRLSKEVMFTEEDVKFYLAELAL</div>
<div class="t" style="left:22.20px;top:416.02px;font-size:9.0px;line-height:9.0px;font-family:'Liberation Sans', sans-serif;color:#111;transform:scaleX(0.9407);transform-origin:0 0;-webkit-text-stroke:0.15px #111;">ALDHLHSLGIIYRDLKPENILLDEEGHIKLTDFGLSKESIDHEKK</div>
<div class="t" style="left:259.17px;top:416.02px;font-size:9.0px;line-height:9.0px;font-family:'Liberation Sans', sans-serif;color:#111;font-weight:bold;-webkit-text-stroke:0.2px #111;">AYSFCGTVEYMAPEVVNR</div>
<div class="t" style="left:371.59px;top:416.02px;font-size:9.0px;line-height:9.0px;font-family:'Liberation Sans', sans-serif;color:#111;transform:scaleX(0.9195);transform-origin:0 0;-webkit-text-stroke:0.15px #111;">GHTQSADWWSFGVLMFEMLT GTLP</div>
<div class="t" style="left:21.54px;top:427.04px;font-size:9.0px;line-height:9.0px;font-family:'Liberation Sans', sans-serif;color:#111;transform:scaleX(0.9214);transform-origin:0 0;-webkit-text-stroke:0.15px #111;">FQGKDRKETMTMILKAKLGMPQFLSPEAQSLLRMLFKRNPANRLGAGPDGVEEIKRHSFFSTIDWNKLYRREIHPPFKPATGRPEDTFY</div>
<div class="t" style="left:21.53px;top:438.06px;font-size:9.0px;line-height:9.0px;font-family:'Liberation Sans', sans-serif;color:#111;transform:scaleX(0.9278);transform-origin:0 0;-webkit-text-stroke:0.15px #111;">FDPEFTAKTPKDSPGIPPSANAHQLFRGFSFVAITSDDESQAMQTVGVHSIVQQLHRNSIQFTDGYEVKEDIGVGSYSVCKRCIHKATN</div>
<div class="t" style="left:21.53px;top:449.08px;font-size:9.0px;line-height:9.0px;font-family:'Liberation Sans', sans-serif;color:#111;transform:scaleX(0.9351);transform-origin:0 0;-webkit-text-stroke:0.15px #111;">MEFAVKIIDKSKRDPTEEIEILLRYGQHPNIITLKDVYDDGKYVYVVTELMKGGELLDKILRQKFFSEREASAVLFTITKTVEYLHAQGVV</div>
<div class="t" style="left:21.53px;top:460.10px;font-size:9.0px;line-height:9.0px;font-family:'Liberation Sans', sans-serif;color:#111;transform:scaleX(0.9274);transform-origin:0 0;-webkit-text-stroke:0.15px #111;">HRDLKPSNILYVDESGNPESIRICDFGFAKQLRAENGLLMTPCYTANFVAPEVLKRQGYDAACDIWSLGVLLYTMLTGYTPFANGPDDT</div>
<div class="t" style="left:21.53px;top:471.12px;font-size:9.0px;line-height:9.0px;font-family:'Liberation Sans', sans-serif;color:#111;transform:scaleX(0.9347);transform-origin:0 0;-webkit-text-stroke:0.15px #111;">PEEILARIGSGKFSLSGGYWNSVSDTAKDLVSKMLHVDPHQRLTAALVLRHPWIVHWDQLPQYQLNRQDAPHLVKGAMAATYSALNR</div>
<div class="t" style="left:21.53px;top:482.14px;font-size:9.0px;line-height:9.0px;font-family:'Liberation Sans', sans-serif;color:#111;transform:scaleX(0.9280);transform-origin:0 0;-webkit-text-stroke:0.15px #111;">NQSPVLEPVGRSTLAQRRGIKKITSTAL</div>
<div class="t" style="left:145.22px;top:504.44px;font-size:11px;line-height:11px;font-family:'Liberation Sans', sans-serif;color:#111;font-weight:bold;transform:scaleX(1.0252);transform-origin:0 0;-webkit-text-stroke:0.3px #111;">AA</div>
<div class="t" style="left:224.74px;top:504.44px;font-size:11px;line-height:11px;font-family:'Liberation Sans', sans-serif;color:#111;font-weight:bold;transform:scaleX(1.0633);transform-origin:0 0;-webkit-text-stroke:0.3px #111;">B ions</div>
<div class="t" style="left:286.76px;top:504.44px;font-size:11px;line-height:11px;font-family:'Liberation Sans', sans-serif;color:#111;font-weight:bold;transform:scaleX(1.0798);transform-origin:0 0;-webkit-text-stroke:0.3px #111;">Y ions</div>
<div class="t" style="left:148.70px;top:520.49px;font-size:11.5px;line-height:11.5px;font-family:'Liberation Mono', monospace;color:#5c5c5c;">A</div>
<div class="t" style="left:189.67px;top:520.49px;font-size:11.5px;line-height:11.5px;font-family:'Liberation Mono', monospace;color:#5c5c5c;">1</div>
<div class="t" style="left:294.80px;top:520.49px;font-size:11.5px;line-height:11.5px;font-family:'Liberation Mono', monospace;color:#5c5c5c;">1964.89</div>
<div class="t" style="left:370.95px;top:520.49px;font-size:11.5px;line-height:11.5px;font-family:'Liberation Mono', monospace;color:#5c5c5c;">18</div>
<div class="t" style="left:148.47px;top:534.39px;font-size:11.5px;line-height:11.5px;font-family:'Liberation Mono', monospace;color:#5c5c5c;">Y</div>
<div class="t" style="left:189.91px;top:534.39px;font-size:11.5px;line-height:11.5px;font-family:'Liberation Mono', monospace;color:#5c5c5c;">2</div>
<div class="t" style="left:224.67px;top:534.39px;font-size:11.5px;line-height:11.5px;font-family:'Liberation Mono', monospace;color:#5c5c5c;">235.11</div>
<div class="t" style="left:294.80px;top:534.39px;font-size:11.5px;line-height:11.5px;font-family:'Liberation Mono', monospace;color:#5c5c5c;">1801.82</div>
<div class="t" style="left:371.12px;top:534.39px;font-size:11.5px;line-height:11.5px;font-family:'Liberation Mono', monospace;color:#5c5c5c;">17</div>
<div class="t" style="left:148.24px;top:548.29px;font-size:11.5px;line-height:11.5px;font-family:'Liberation Mono', monospace;color:#5c5c5c;">S</div>
<div class="t" style="left:189.85px;top:548.29px;font-size:11.5px;line-height:11.5px;font-family:'Liberation Mono', monospace;color:#5c5c5c;">3</div>
<div class="t" style="left:224.67px;top:548.29px;font-size:11.5px;line-height:11.5px;font-family:'Liberation Mono', monospace;color:#5c5c5c;">322.14</div>
<div class="t" style="left:294.80px;top:548.29px;font-size:11.5px;line-height:11.5px;font-family:'Liberation Mono', monospace;color:#5c5c5c;">1714.79</div>
<div class="t" style="left:370.95px;top:548.29px;font-size:11.5px;line-height:11.5px;font-family:'Liberation Mono', monospace;color:#5c5c5c;">16</div>
<div class="t" style="left:147.61px;top:562.19px;font-size:11.5px;line-height:11.5px;font-family:'Liberation Mono', monospace;color:#5c5c5c;">F</div>
<div class="t" style="left:189.68px;top:562.19px;font-size:11.5px;line-height:11.5px;font-family:'Liberation Mono', monospace;color:#5c5c5c;">4</div>
<div class="t" style="left:224.67px;top:562.19px;font-size:11.5px;line-height:11.5px;font-family:'Liberation Mono', monospace;color:#5c5c5c;">469.21</div>
<div class="t" style="left:294.80px;top:562.19px;font-size:11.5px;line-height:11.5px;font-family:'Liberation Mono', monospace;color:#5c5c5c;">1567.72</div>
<div class="t" style="left:370.95px;top:562.19px;font-size:11.5px;line-height:11.5px;font-family:'Liberation Mono', monospace;color:#5c5c5c;">15</div>
<div class="t" style="left:148.07px;top:576.09px;font-size:11.5px;line-height:11.5px;font-family:'Liberation Mono', monospace;color:#5c5c5c;">C</div>
<div class="t" style="left:189.85px;top:576.09px;font-size:11.5px;line-height:11.5px;font-family:'Liberation Mono', monospace;color:#5c5c5c;">5</div>
<div class="t" style="left:224.90px;top:576.09px;font-size:11.5px;line-height:11.5px;font-family:'Liberation Mono', monospace;color:#5c5c5c;">572.22</div>
<div class="t" style="left:294.68px;top:576.09px;font-size:11.5px;line-height:11.5px;font-family:'Liberation Mono', monospace;color:#30307a;font-weight:bold;">1464.72</div>
<div class="t" style="left:370.77px;top:576.09px;font-size:11.5px;line-height:11.5px;font-family:'Liberation Mono', monospace;color:#5c5c5c;">14</div>
<div class="t" style="left:148.07px;top:589.99px;font-size:11.5px;line-height:11.5px;font-family:'Liberation Mono', monospace;color:#5c5c5c;">G</div>
<div class="t" style="left:189.85px;top:589.99px;font-size:11.5px;line-height:11.5px;font-family:'Liberation Mono', monospace;color:#5c5c5c;">6</div>
<div class="t" style="left:224.67px;top:589.99px;font-size:11.5px;line-height:11.5px;font-family:'Liberation Mono', monospace;color:#5c5c5c;">629.24</div>
<div class="t" style="left:294.68px;top:589.99px;font-size:11.5px;line-height:11.5px;font-family:'Liberation Mono', monospace;color:#30307a;font-weight:bold;">1407.69</div>
<div class="t" style="left:370.95px;top:589.99px;font-size:11.5px;line-height:11.5px;font-family:'Liberation Mono', monospace;color:#5c5c5c;">13</div>
<div class="t" style="left:148.30px;top:603.89px;font-size:11.5px;line-height:11.5px;font-family:'Liberation Mono', monospace;color:#5c5c5c;">T</div>
<div class="t" style="left:190.02px;top:603.89px;font-size:11.5px;line-height:11.5px;font-family:'Liberation Mono', monospace;color:#5c5c5c;">7</div>
<div class="t" style="left:224.90px;top:603.89px;font-size:11.5px;line-height:11.5px;font-family:'Liberation Mono', monospace;color:#5c5c5c;">730.29</div>
<div class="t" style="left:294.57px;top:603.89px;font-size:11.5px;line-height:11.5px;font-family:'Liberation Mono', monospace;color:#30307a;font-weight:bold;">1306.65</div>
<div class="t" style="left:371.00px;top:603.89px;font-size:11.5px;line-height:11.5px;font-family:'Liberation Mono', monospace;color:#5c5c5c;">12</div>
<div class="t" style="left:148.64px;top:617.79px;font-size:11.5px;line-height:11.5px;font-family:'Liberation Mono', monospace;color:#5c5c5c;">V</div>
<div class="t" style="left:189.85px;top:617.79px;font-size:11.5px;line-height:11.5px;font-family:'Liberation Mono', monospace;color:#5c5c5c;">8</div>
<div class="t" style="left:224.67px;top:617.79px;font-size:11.5px;line-height:11.5px;font-family:'Liberation Mono', monospace;color:#d01020;font-weight:bold;">829.35</div>
<div class="t" style="left:294.74px;top:617.79px;font-size:11.5px;line-height:11.5px;font-family:'Liberation Mono', monospace;color:#5c5c5c;">1207.58</div>
<div class="t" style="left:370.77px;top:617.79px;font-size:11.5px;line-height:11.5px;font-family:'Liberation Mono', monospace;color:#5c5c5c;">11</div>
<div class="t" style="left:147.78px;top:631.69px;font-size:11.5px;line-height:11.5px;font-family:'Liberation Mono', monospace;color:#5c5c5c;">E</div>
<div class="t" style="left:189.91px;top:631.69px;font-size:11.5px;line-height:11.5px;font-family:'Liberation Mono', monospace;color:#5c5c5c;">9</div>
<div class="t" style="left:224.79px;top:631.69px;font-size:11.5px;line-height:11.5px;font-family:'Liberation Mono', monospace;color:#5c5c5c;">958.40</div>
<div class="t" style="left:294.74px;top:631.69px;font-size:11.5px;line-height:11.5px;font-family:'Liberation Mono', monospace;color:#5c5c5c;">1078.53</div>
<div class="t" style="left:370.89px;top:631.69px;font-size:11.5px;line-height:11.5px;font-family:'Liberation Mono', monospace;color:#5c5c5c;">10</div>
<div class="t" style="left:148.47px;top:645.59px;font-size:11.5px;line-height:11.5px;font-family:'Liberation Mono', monospace;color:#5c5c5c;">Y</div>
<div class="t" style="left:182.89px;top:645.59px;font-size:11.5px;line-height:11.5px;font-family:'Liberation Mono', monospace;color:#5c5c5c;">10</div>
<div class="t" style="left:217.94px;top:645.59px;font-size:11.5px;line-height:11.5px;font-family:'Liberation Mono', monospace;color:#5c5c5c;">1121.46</div>
<div class="t" style="left:301.64px;top:645.59px;font-size:11.5px;line-height:11.5px;font-family:'Liberation Mono', monospace;color:#30307a;font-weight:bold;">915.47</div>
<div class="t" style="left:377.90px;top:645.59px;font-size:11.5px;line-height:11.5px;font-family:'Liberation Mono', monospace;color:#5c5c5c;">9</div>
<div class="t" style="left:148.01px;top:659.49px;font-size:11.5px;line-height:11.5px;font-family:'Liberation Mono', monospace;color:#5c5c5c;">M</div>
<div class="t" style="left:182.77px;top:659.49px;font-size:11.5px;line-height:11.5px;font-family:'Liberation Mono', monospace;color:#5c5c5c;">11</div>
<div class="t" style="left:217.88px;top:659.49px;font-size:11.5px;line-height:11.5px;font-family:'Liberation Mono', monospace;color:#5c5c5c;">1252.50</div>
<div class="t" style="left:301.64px;top:659.49px;font-size:11.5px;line-height:11.5px;font-family:'Liberation Mono', monospace;color:#5c5c5c;">784.43</div>
<div class="t" style="left:377.85px;top:659.49px;font-size:11.5px;line-height:11.5px;font-family:'Liberation Mono', monospace;color:#5c5c5c;">8</div>
<div class="t" style="left:148.70px;top:673.39px;font-size:11.5px;line-height:11.5px;font-family:'Liberation Mono', monospace;color:#5c5c5c;">A</div>
<div class="t" style="left:183.00px;top:673.39px;font-size:11.5px;line-height:11.5px;font-family:'Liberation Mono', monospace;color:#5c5c5c;">12</div>
<div class="t" style="left:217.77px;top:673.39px;font-size:11.5px;line-height:11.5px;font-family:'Liberation Mono', monospace;color:#5c5c5c;">1323.54</div>
<div class="t" style="left:301.59px;top:673.39px;font-size:11.5px;line-height:11.5px;font-family:'Liberation Mono', monospace;color:#30307a;font-weight:bold;">713.39</div>
<div class="t" style="left:378.02px;top:673.39px;font-size:11.5px;line-height:11.5px;font-family:'Liberation Mono', monospace;color:#5c5c5c;">7</div>
<div class="t" style="left:147.78px;top:687.29px;font-size:11.5px;line-height:11.5px;font-family:'Liberation Mono', monospace;color:#5c5c5c;">P</div>
<div class="t" style="left:182.95px;top:687.29px;font-size:11.5px;line-height:11.5px;font-family:'Liberation Mono', monospace;color:#5c5c5c;">13</div>
<div class="t" style="left:218.00px;top:687.29px;font-size:11.5px;line-height:11.5px;font-family:'Liberation Mono', monospace;color:#5c5c5c;">1420.59</div>
<div class="t" style="left:301.24px;top:687.29px;font-size:11.5px;line-height:11.5px;font-family:'Liberation Mono', monospace;color:#30307a;font-weight:bold;">616.34</div>
<div class="t" style="left:377.85px;top:687.29px;font-size:11.5px;line-height:11.5px;font-family:'Liberation Mono', monospace;color:#5c5c5c;">6</div>
<div class="t" style="left:147.78px;top:701.19px;font-size:11.5px;line-height:11.5px;font-family:'Liberation Mono', monospace;color:#5c5c5c;">E</div>
<div class="t" style="left:182.77px;top:701.19px;font-size:11.5px;line-height:11.5px;font-family:'Liberation Mono', monospace;color:#5c5c5c;">14</div>
<div class="t" style="left:217.94px;top:701.19px;font-size:11.5px;line-height:11.5px;font-family:'Liberation Mono', monospace;color:#5c5c5c;">1549.63</div>
<div class="t" style="left:301.53px;top:701.19px;font-size:11.5px;line-height:11.5px;font-family:'Liberation Mono', monospace;color:#30307a;font-weight:bold;">487.30</div>
<div class="t" style="left:377.85px;top:701.19px;font-size:11.5px;line-height:11.5px;font-family:'Liberation Mono', monospace;color:#5c5c5c;">5</div>
<div class="t" style="left:148.64px;top:715.09px;font-size:11.5px;line-height:11.5px;font-family:'Liberation Mono', monospace;color:#5c5c5c;">V</div>
<div class="t" style="left:182.95px;top:715.09px;font-size:11.5px;line-height:11.5px;font-family:'Liberation Mono', monospace;color:#5c5c5c;">15</div>
<div class="t" style="left:217.88px;top:715.09px;font-size:11.5px;line-height:11.5px;font-family:'Liberation Mono', monospace;color:#5c5c5c;">1648.70</div>
<div class="t" style="left:301.64px;top:715.09px;font-size:11.5px;line-height:11.5px;font-family:'Liberation Mono', monospace;color:#5c5c5c;">388.23</div>
<div class="t" style="left:377.68px;top:715.09px;font-size:11.5px;line-height:11.5px;font-family:'Liberation Mono', monospace;color:#5c5c5c;">4</div>
<div class="t" style="left:148.64px;top:728.99px;font-size:11.5px;line-height:11.5px;font-family:'Liberation Mono', monospace;color:#5c5c5c;">V</div>
<div class="t" style="left:182.95px;top:728.99px;font-size:11.5px;line-height:11.5px;font-family:'Liberation Mono', monospace;color:#5c5c5c;">16</div>
<div class="t" style="left:217.94px;top:728.99px;font-size:11.5px;line-height:11.5px;font-family:'Liberation Mono', monospace;color:#d01020;font-weight:bold;">1747.77</div>
<div class="t" style="left:301.64px;top:728.99px;font-size:11.5px;line-height:11.5px;font-family:'Liberation Mono', monospace;color:#5c5c5c;">289.16</div>
<div class="t" style="left:377.85px;top:728.99px;font-size:11.5px;line-height:11.5px;font-family:'Liberation Mono', monospace;color:#5c5c5c;">3</div>
<div class="t" style="left:147.78px;top:742.89px;font-size:11.5px;line-height:11.5px;font-family:'Liberation Mono', monospace;color:#5c5c5c;">N</div>
<div class="t" style="left:183.12px;top:742.89px;font-size:11.5px;line-height:11.5px;font-family:'Liberation Mono', monospace;color:#5c5c5c;">17</div>
<div class="t" style="left:217.65px;top:742.89px;font-size:11.5px;line-height:11.5px;font-family:'Liberation Mono', monospace;color:#d01020;font-weight:bold;">1861.81</div>
<div class="t" style="left:301.70px;top:742.89px;font-size:11.5px;line-height:11.5px;font-family:'Liberation Mono', monospace;color:#5c5c5c;">175.12</div>
<div class="t" style="left:377.90px;top:742.89px;font-size:11.5px;line-height:11.5px;font-family:'Liberation Mono', monospace;color:#5c5c5c;">2</div>
<div class="t" style="left:147.78px;top:756.79px;font-size:11.5px;line-height:11.5px;font-family:'Liberation Mono', monospace;color:#5c5c5c;">R</div>
<div class="t" style="left:182.95px;top:756.79px;font-size:11.5px;line-height:11.5px;font-family:'Liberation Mono', monospace;color:#5c5c5c;">18</div>
<div class="t" style="left:217.94px;top:756.79px;font-size:11.5px;line-height:11.5px;font-family:'Liberation Mono', monospace;color:#5c5c5c;">2037.33</div>
<div class="t" style="left:377.68px;top:756.79px;font-size:11.5px;line-height:11.5px;font-family:'Liberation Mono', monospace;color:#5c5c5c;">1</div>

</body></html>
